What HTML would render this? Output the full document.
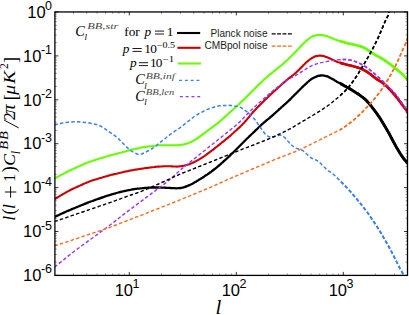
<!DOCTYPE html>
<html><head><meta charset="utf-8"><style>
html,body{margin:0;padding:0;background:#fff;}
svg{display:block}
.tk{font-family:"Liberation Sans",sans-serif;font-size:16.5px;fill:#000}
.sp{font-family:"Liberation Sans",sans-serif;font-size:12.5px;fill:#000}
.lg{font-family:"Liberation Sans",sans-serif;font-size:10.5px;fill:#1c1c1c}
.it{font-family:"Liberation Serif",serif;font-style:italic;fill:#000}
.mn{stroke-opacity:0.55}
.eq{stroke:#000;stroke-width:0.9;fill:none}
.sup{fill:#4a4a4a}
.rm{font-family:"Liberation Serif",serif;fill:#000}
</style></head><body>
<svg width="409" height="315" viewBox="0 0 409 315">
<rect width="409" height="315" fill="#fff"/>
<defs><clipPath id="cpr"><rect x="340" y="0" width="80" height="315"/></clipPath><clipPath id="cp"><rect x="54.9" y="11.95" width="352.6" height="263.45"/></clipPath></defs>
<g clip-path="url(#cp)">
<path d="M54.4 217.0C54.7 216.8 55.7 216.4 56.4 216.1C57.1 215.8 57.7 215.5 58.4 215.2C59.1 214.9 59.7 214.6 60.4 214.3C61.1 214.0 61.7 213.6 62.4 213.3C63.1 213.0 63.7 212.7 64.4 212.4C65.1 212.1 65.7 211.8 66.4 211.5C67.1 211.2 67.7 210.9 68.4 210.6C69.1 210.3 69.7 210.0 70.4 209.8C71.1 209.5 71.7 209.2 72.4 208.9C73.1 208.6 73.7 208.4 74.4 208.1C75.1 207.8 75.7 207.6 76.4 207.3C77.1 207.0 77.7 206.7 78.4 206.5C79.1 206.2 79.7 205.9 80.4 205.7C81.1 205.4 81.7 205.1 82.4 204.8C83.1 204.6 83.7 204.3 84.4 204.0C85.1 203.8 85.7 203.5 86.4 203.2C87.1 203.0 87.7 202.7 88.4 202.4C89.1 202.2 89.7 201.9 90.4 201.7C91.1 201.4 91.7 201.2 92.4 201.0C93.1 200.7 93.7 200.5 94.4 200.2C95.1 200.0 95.7 199.8 96.4 199.5C97.1 199.3 97.7 199.1 98.4 198.8C99.1 198.6 99.7 198.4 100.4 198.1C101.1 197.9 101.7 197.7 102.4 197.4C103.1 197.2 103.7 197.0 104.4 196.7C105.1 196.5 105.7 196.3 106.4 196.0C107.1 195.8 107.7 195.6 108.4 195.4C109.1 195.2 109.7 195.0 110.4 194.8C111.1 194.5 111.7 194.4 112.4 194.2C113.1 194.0 113.7 193.8 114.4 193.6C115.1 193.4 115.7 193.2 116.4 193.0C117.1 192.8 117.7 192.7 118.4 192.5C119.1 192.3 119.7 192.1 120.4 192.0C121.1 191.8 121.7 191.6 122.4 191.5C123.1 191.3 123.7 191.2 124.4 191.0C125.1 190.9 125.7 190.7 126.4 190.6C127.1 190.4 127.7 190.3 128.4 190.2C129.1 190.0 129.7 189.9 130.4 189.8C131.1 189.6 131.7 189.5 132.4 189.4C133.1 189.3 133.7 189.2 134.4 189.1C135.1 189.0 135.7 188.9 136.4 188.8C137.1 188.7 137.7 188.7 138.4 188.6C139.1 188.5 139.7 188.4 140.4 188.4C141.1 188.3 141.7 188.2 142.4 188.2C143.1 188.1 143.7 188.0 144.4 188.0C145.1 187.9 145.7 187.9 146.4 187.8C147.1 187.8 147.7 187.8 148.4 187.7C149.1 187.7 149.7 187.7 150.4 187.7C151.1 187.6 151.7 187.6 152.4 187.6C153.1 187.6 153.7 187.5 154.4 187.5C155.1 187.5 155.7 187.5 156.4 187.5C157.1 187.5 157.7 187.5 158.4 187.5C159.1 187.5 159.7 187.5 160.4 187.6C161.1 187.6 161.7 187.6 162.4 187.6C163.1 187.7 163.7 187.7 164.4 187.7C165.1 187.7 165.7 187.8 166.4 187.8C167.1 187.8 167.7 187.9 168.4 187.9C169.1 187.9 169.7 188.0 170.4 188.0C171.1 188.0 171.7 188.1 172.4 188.1C173.1 188.2 173.7 188.2 174.4 188.2C175.1 188.3 175.7 188.3 176.4 188.3C177.1 188.3 177.7 188.3 178.4 188.2C179.1 188.2 179.7 188.1 180.4 188.0C181.1 187.9 181.7 187.8 182.4 187.7C183.1 187.5 183.7 187.3 184.4 187.1C185.1 186.9 185.7 186.7 186.4 186.4C187.1 186.2 187.7 185.9 188.4 185.6C189.1 185.3 189.7 185.0 190.4 184.7C191.1 184.4 191.7 184.0 192.4 183.7C193.1 183.3 193.7 183.0 194.4 182.6C195.1 182.2 195.7 181.8 196.4 181.4C197.1 181.0 197.7 180.6 198.4 180.2C199.1 179.8 199.7 179.4 200.4 179.0C201.1 178.5 201.7 178.1 202.4 177.7C203.1 177.2 203.7 176.8 204.4 176.4C205.1 175.9 205.7 175.5 206.4 175.1C207.1 174.6 207.7 174.2 208.4 173.7C209.1 173.2 209.7 172.8 210.4 172.3C211.1 171.8 211.7 171.3 212.4 170.8C213.1 170.3 213.7 169.7 214.4 169.2C215.1 168.7 215.7 168.2 216.4 167.6C217.1 167.1 217.7 166.5 218.4 166.0C219.1 165.4 219.7 164.9 220.4 164.3C221.1 163.7 221.7 163.1 222.4 162.5C223.1 162.0 223.7 161.3 224.4 160.7C225.1 160.1 225.7 159.5 226.4 158.9C227.1 158.3 227.7 157.7 228.4 157.0C229.1 156.4 229.7 155.8 230.4 155.1C231.1 154.5 231.7 153.8 232.4 153.2C233.1 152.5 233.7 151.9 234.4 151.2C235.1 150.5 235.7 149.9 236.4 149.2C237.1 148.5 237.7 147.9 238.4 147.2C239.1 146.5 239.7 145.9 240.4 145.2C241.1 144.5 241.7 143.9 242.4 143.2C243.1 142.5 243.7 141.9 244.4 141.2C245.1 140.5 245.7 139.9 246.4 139.2C247.1 138.6 247.7 137.9 248.4 137.3C249.1 136.6 249.7 136.0 250.4 135.4C251.1 134.7 251.7 134.1 252.4 133.5C253.1 132.8 253.7 132.2 254.4 131.6C255.1 130.9 255.7 130.3 256.4 129.7C257.1 129.0 257.7 128.4 258.4 127.7C259.1 127.1 259.7 126.4 260.4 125.8C261.1 125.2 261.7 124.5 262.4 123.9C263.1 123.3 263.7 122.8 264.4 122.2C265.1 121.6 265.7 121.1 266.4 120.5C267.1 120.0 267.7 119.4 268.4 118.9C269.1 118.3 269.7 117.8 270.4 117.2C271.1 116.6 271.7 116.0 272.4 115.5C273.1 114.9 273.7 114.3 274.4 113.7C275.1 113.1 275.7 112.5 276.4 111.9C277.1 111.3 277.7 110.7 278.4 110.1C279.1 109.5 279.7 108.9 280.4 108.3C281.1 107.7 281.7 107.1 282.4 106.5C283.1 105.9 283.7 105.3 284.4 104.7C285.1 104.1 285.7 103.5 286.4 102.9C287.1 102.3 287.7 101.7 288.4 101.0C289.1 100.4 289.7 99.8 290.4 99.1C291.1 98.5 291.7 97.8 292.4 97.1C293.1 96.5 293.7 95.8 294.4 95.1C295.1 94.5 295.7 93.8 296.4 93.1C297.1 92.5 297.7 91.8 298.4 91.1C299.1 90.5 299.7 89.8 300.4 89.1C301.1 88.5 301.7 87.8 302.4 87.1C303.1 86.5 303.7 85.8 304.4 85.2C305.1 84.5 305.7 83.9 306.4 83.3C307.1 82.7 307.7 82.1 308.4 81.5C309.1 81.0 309.7 80.4 310.4 79.9C311.1 79.4 311.7 79.0 312.4 78.6C313.1 78.2 313.7 77.8 314.4 77.4C315.1 77.1 315.7 76.8 316.4 76.6C317.1 76.3 317.7 76.1 318.4 75.9C319.1 75.7 319.7 75.6 320.4 75.5C321.1 75.4 321.7 75.4 322.4 75.4C323.1 75.4 323.7 75.5 324.4 75.6C325.1 75.8 325.7 75.9 326.4 76.2C327.1 76.4 327.7 76.6 328.4 76.9C329.1 77.2 329.7 77.6 330.4 77.9C331.1 78.3 331.7 78.6 332.4 79.0C333.1 79.4 333.7 79.8 334.4 80.2C335.1 80.6 335.7 81.0 336.4 81.4C337.1 81.8 337.7 82.2 338.4 82.5C339.1 82.9 339.7 83.3 340.4 83.6C341.1 84.0 341.7 84.3 342.4 84.7C343.1 85.0 343.7 85.4 344.4 85.8C345.1 86.1 345.7 86.5 346.4 86.9C347.1 87.3 347.7 87.6 348.4 88.0C349.1 88.4 349.7 88.8 350.4 89.2C351.1 89.6 351.7 90.0 352.4 90.4C353.1 90.8 353.7 91.2 354.4 91.6C355.1 92.1 355.7 92.5 356.4 92.9C357.1 93.3 357.7 93.8 358.4 94.2C359.1 94.7 359.7 95.1 360.4 95.6C361.1 96.1 361.7 96.6 362.4 97.1C363.1 97.6 363.7 98.2 364.4 98.7C365.1 99.3 365.7 100.0 366.4 100.6C367.1 101.3 367.7 102.0 368.4 102.8C369.1 103.5 369.7 104.3 370.4 105.1C371.1 106.0 371.7 106.8 372.4 107.7C373.1 108.5 373.7 109.4 374.4 110.3C375.1 111.2 375.7 112.1 376.4 113.0C377.1 113.9 377.7 114.8 378.4 115.8C379.1 116.8 379.7 117.8 380.4 118.8C381.1 119.9 381.7 121.0 382.4 122.1C383.1 123.2 383.7 124.3 384.4 125.4C385.1 126.6 385.7 127.7 386.4 128.9C387.1 130.0 387.7 131.2 388.4 132.3C389.1 133.5 389.7 134.7 390.4 136.0C391.1 137.2 391.7 138.5 392.4 139.8C393.1 141.1 393.7 142.4 394.4 143.6C395.1 144.8 395.7 146.0 396.4 147.2C397.1 148.3 397.7 149.4 398.4 150.5C399.1 151.6 399.7 152.7 400.4 153.8C401.1 154.8 401.7 155.8 402.4 156.8C403.1 157.8 403.7 158.7 404.4 159.5C405.1 160.3 405.9 161.1 406.4 161.8C406.9 162.4 407.4 163.3 407.6 163.6" fill="none" stroke="#000000" stroke-width="2.3" stroke-linejoin="round"/>
<path d="M54.4 199.3C54.7 199.1 55.7 198.5 56.4 198.1C57.1 197.7 57.7 197.3 58.4 196.9C59.1 196.5 59.7 196.1 60.4 195.7C61.1 195.3 61.7 194.9 62.4 194.5C63.1 194.1 63.7 193.8 64.4 193.4C65.1 193.0 65.7 192.6 66.4 192.2C67.1 191.8 67.7 191.4 68.4 191.1C69.1 190.7 69.7 190.4 70.4 190.0C71.1 189.7 71.7 189.3 72.4 189.0C73.1 188.7 73.7 188.4 74.4 188.1C75.1 187.8 75.7 187.5 76.4 187.2C77.1 186.9 77.7 186.6 78.4 186.3C79.1 186.0 79.7 185.7 80.4 185.4C81.1 185.1 81.7 184.8 82.4 184.5C83.1 184.2 83.7 183.9 84.4 183.6C85.1 183.3 85.7 183.0 86.4 182.7C87.1 182.4 87.7 182.1 88.4 181.9C89.1 181.6 89.7 181.4 90.4 181.1C91.1 180.9 91.7 180.7 92.4 180.4C93.1 180.2 93.7 180.0 94.4 179.8C95.1 179.6 95.7 179.4 96.4 179.2C97.1 179.0 97.7 178.8 98.4 178.6C99.1 178.4 99.7 178.2 100.4 178.0C101.1 177.8 101.7 177.6 102.4 177.4C103.1 177.2 103.7 177.0 104.4 176.8C105.1 176.6 105.7 176.4 106.4 176.2C107.1 176.0 107.7 175.8 108.4 175.6C109.1 175.5 109.7 175.3 110.4 175.1C111.1 174.9 111.7 174.8 112.4 174.6C113.1 174.5 113.7 174.3 114.4 174.1C115.1 174.0 115.7 173.8 116.4 173.7C117.1 173.5 117.7 173.4 118.4 173.2C119.1 173.1 119.7 172.9 120.4 172.7C121.1 172.6 121.7 172.4 122.4 172.3C123.1 172.1 123.7 172.0 124.4 171.8C125.1 171.7 125.7 171.5 126.4 171.4C127.1 171.2 127.7 171.1 128.4 170.9C129.1 170.8 129.7 170.6 130.4 170.5C131.1 170.4 131.7 170.3 132.4 170.2C133.1 170.0 133.7 169.9 134.4 169.8C135.1 169.7 135.7 169.6 136.4 169.5C137.1 169.4 137.7 169.3 138.4 169.2C139.1 169.1 139.7 169.0 140.4 168.9C141.1 168.8 141.7 168.7 142.4 168.6C143.1 168.5 143.7 168.4 144.4 168.3C145.1 168.2 145.7 168.1 146.4 168.0C147.1 167.9 147.7 167.8 148.4 167.7C149.1 167.7 149.7 167.6 150.4 167.5C151.1 167.4 151.7 167.3 152.4 167.2C153.1 167.1 153.7 167.0 154.4 167.0C155.1 166.9 155.7 166.8 156.4 166.7C157.1 166.7 157.7 166.6 158.4 166.6C159.1 166.5 159.7 166.5 160.4 166.5C161.1 166.4 161.7 166.4 162.4 166.4C163.1 166.3 163.7 166.3 164.4 166.3C165.1 166.3 165.7 166.3 166.4 166.2C167.1 166.2 167.7 166.2 168.4 166.2C169.1 166.3 169.7 166.3 170.4 166.3C171.1 166.3 171.7 166.4 172.4 166.4C173.1 166.4 173.7 166.5 174.4 166.5C175.1 166.5 175.7 166.6 176.4 166.6C177.1 166.6 177.7 166.6 178.4 166.5C179.1 166.5 179.7 166.4 180.4 166.3C181.1 166.3 181.7 166.1 182.4 166.0C183.1 165.9 183.7 165.7 184.4 165.6C185.1 165.4 185.7 165.3 186.4 165.1C187.1 164.9 187.7 164.7 188.4 164.5C189.1 164.3 189.7 164.0 190.4 163.8C191.1 163.5 191.7 163.2 192.4 162.9C193.1 162.6 193.7 162.3 194.4 162.0C195.1 161.7 195.7 161.3 196.4 161.0C197.1 160.6 197.7 160.3 198.4 159.9C199.1 159.5 199.7 159.1 200.4 158.7C201.1 158.3 201.7 157.9 202.4 157.4C203.1 157.0 203.7 156.5 204.4 156.1C205.1 155.6 205.7 155.1 206.4 154.7C207.1 154.2 207.7 153.7 208.4 153.2C209.1 152.7 209.7 152.2 210.4 151.7C211.1 151.2 211.7 150.7 212.4 150.2C213.1 149.6 213.7 149.1 214.4 148.6C215.1 148.1 215.7 147.5 216.4 147.0C217.1 146.5 217.7 145.9 218.4 145.4C219.1 144.9 219.7 144.3 220.4 143.8C221.1 143.3 221.7 142.7 222.4 142.2C223.1 141.6 223.7 141.1 224.4 140.6C225.1 140.0 225.7 139.5 226.4 138.9C227.1 138.4 227.7 137.8 228.4 137.3C229.1 136.7 229.7 136.1 230.4 135.6C231.1 135.0 231.7 134.4 232.4 133.8C233.1 133.2 233.7 132.6 234.4 132.0C235.1 131.4 235.7 130.8 236.4 130.2C237.1 129.6 237.7 129.0 238.4 128.3C239.1 127.7 239.7 127.1 240.4 126.4C241.1 125.8 241.7 125.1 242.4 124.4C243.1 123.8 243.7 123.1 244.4 122.4C245.1 121.6 245.7 120.9 246.4 120.1C247.1 119.4 247.7 118.6 248.4 117.8C249.1 117.0 249.7 116.1 250.4 115.3C251.1 114.5 251.7 113.7 252.4 112.9C253.1 112.2 253.7 111.4 254.4 110.7C255.1 110.0 255.7 109.3 256.4 108.6C257.1 107.9 257.7 107.3 258.4 106.6C259.1 105.9 259.7 105.3 260.4 104.6C261.1 103.9 261.7 103.3 262.4 102.6C263.1 101.9 263.7 101.3 264.4 100.6C265.1 99.9 265.7 99.3 266.4 98.6C267.1 98.0 267.7 97.3 268.4 96.7C269.1 96.0 269.7 95.4 270.4 94.8C271.1 94.1 271.7 93.5 272.4 92.9C273.1 92.3 273.7 91.7 274.4 91.1C275.1 90.5 275.7 89.9 276.4 89.3C277.1 88.7 277.7 88.1 278.4 87.5C279.1 86.9 279.7 86.3 280.4 85.7C281.1 85.1 281.7 84.5 282.4 83.9C283.1 83.3 283.7 82.7 284.4 82.1C285.1 81.5 285.7 80.9 286.4 80.3C287.1 79.7 287.7 79.2 288.4 78.6C289.1 78.1 289.7 77.6 290.4 77.1C291.1 76.6 291.7 76.1 292.4 75.6C293.1 75.1 293.7 74.6 294.4 74.0C295.1 73.5 295.7 72.9 296.4 72.3C297.1 71.7 297.7 71.0 298.4 70.4C299.1 69.7 299.7 69.0 300.4 68.3C301.1 67.6 301.7 66.9 302.4 66.2C303.1 65.5 303.7 64.8 304.4 64.2C305.1 63.5 305.7 62.9 306.4 62.3C307.1 61.7 307.7 61.1 308.4 60.6C309.1 60.0 309.7 59.5 310.4 59.0C311.1 58.6 311.7 58.1 312.4 57.8C313.1 57.4 313.7 57.1 314.4 56.8C315.1 56.5 315.7 56.3 316.4 56.1C317.1 56.0 317.7 55.8 318.4 55.7C319.1 55.7 319.7 55.6 320.4 55.6C321.1 55.7 321.7 55.8 322.4 55.9C323.1 56.0 323.7 56.2 324.4 56.3C325.1 56.5 325.7 56.8 326.4 57.0C327.1 57.2 327.7 57.5 328.4 57.8C329.1 58.1 329.7 58.4 330.4 58.7C331.1 59.1 331.7 59.4 332.4 59.7C333.1 60.0 333.7 60.4 334.4 60.7C335.1 61.0 335.7 61.3 336.4 61.5C337.1 61.8 337.7 62.0 338.4 62.3C339.1 62.5 339.7 62.7 340.4 62.9C341.1 63.1 341.7 63.3 342.4 63.5C343.1 63.7 343.7 63.9 344.4 64.0C345.1 64.2 345.7 64.4 346.4 64.6C347.1 64.7 347.7 64.9 348.4 65.1C349.1 65.2 349.7 65.4 350.4 65.5C351.1 65.7 351.7 65.9 352.4 66.0C353.1 66.2 353.7 66.4 354.4 66.6C355.1 66.7 355.7 66.9 356.4 67.1C357.1 67.3 357.7 67.5 358.4 67.7C359.1 68.0 359.7 68.2 360.4 68.5C361.1 68.7 361.7 69.0 362.4 69.3C363.1 69.6 363.7 69.9 364.4 70.3C365.1 70.7 365.7 71.0 366.4 71.5C367.1 71.9 367.7 72.3 368.4 72.8C369.1 73.2 369.7 73.7 370.4 74.2C371.1 74.7 371.7 75.3 372.4 75.8C373.1 76.3 373.7 76.9 374.4 77.4C375.1 77.9 375.7 78.4 376.4 78.9C377.1 79.3 377.7 79.8 378.4 80.2C379.1 80.6 379.7 81.0 380.4 81.4C381.1 81.9 381.7 82.3 382.4 82.7C383.1 83.2 383.7 83.7 384.4 84.3C385.1 84.8 385.7 85.4 386.4 86.0C387.1 86.6 387.7 87.3 388.4 88.0C389.1 88.7 389.7 89.4 390.4 90.1C391.1 90.9 391.7 91.6 392.4 92.4C393.1 93.2 393.7 93.9 394.4 94.7C395.1 95.5 395.7 96.3 396.4 97.2C397.1 98.0 397.7 98.8 398.4 99.7C399.1 100.6 399.7 101.4 400.4 102.3C401.1 103.2 401.7 104.1 402.4 105.0C403.1 105.9 403.7 106.8 404.4 107.6C405.1 108.5 405.9 109.3 406.4 110.1C406.9 110.9 407.4 111.9 407.6 112.3" fill="none" stroke="#cc0000" stroke-width="2.1" stroke-linejoin="round"/>
<path d="M54.4 178.6C54.7 178.4 55.7 177.9 56.4 177.5C57.1 177.2 57.7 176.8 58.4 176.5C59.1 176.1 59.7 175.8 60.4 175.4C61.1 175.1 61.7 174.7 62.4 174.4C63.1 174.0 63.7 173.7 64.4 173.3C65.1 173.0 65.7 172.6 66.4 172.3C67.1 171.9 67.7 171.6 68.4 171.2C69.1 170.9 69.7 170.6 70.4 170.3C71.1 169.9 71.7 169.6 72.4 169.3C73.1 169.0 73.7 168.7 74.4 168.4C75.1 168.1 75.7 167.8 76.4 167.5C77.1 167.2 77.7 166.9 78.4 166.6C79.1 166.3 79.7 166.0 80.4 165.7C81.1 165.4 81.7 165.1 82.4 164.8C83.1 164.5 83.7 164.2 84.4 163.9C85.1 163.7 85.7 163.4 86.4 163.1C87.1 162.8 87.7 162.5 88.4 162.3C89.1 162.0 89.7 161.7 90.4 161.5C91.1 161.3 91.7 161.0 92.4 160.8C93.1 160.6 93.7 160.4 94.4 160.2C95.1 160.0 95.7 159.8 96.4 159.6C97.1 159.4 97.7 159.1 98.4 158.9C99.1 158.7 99.7 158.5 100.4 158.3C101.1 158.1 101.7 157.9 102.4 157.7C103.1 157.5 103.7 157.3 104.4 157.1C105.1 156.9 105.7 156.7 106.4 156.5C107.1 156.3 107.7 156.1 108.4 155.9C109.1 155.7 109.7 155.5 110.4 155.4C111.1 155.2 111.7 155.0 112.4 154.8C113.1 154.6 113.7 154.5 114.4 154.3C115.1 154.1 115.7 153.9 116.4 153.8C117.1 153.6 117.7 153.4 118.4 153.2C119.1 153.1 119.7 152.9 120.4 152.7C121.1 152.5 121.7 152.4 122.4 152.2C123.1 152.0 123.7 151.8 124.4 151.7C125.1 151.5 125.7 151.3 126.4 151.1C127.1 151.0 127.7 150.8 128.4 150.6C129.1 150.5 129.7 150.3 130.4 150.1C131.1 149.9 131.7 149.8 132.4 149.6C133.1 149.4 133.7 149.3 134.4 149.1C135.1 148.9 135.7 148.8 136.4 148.6C137.1 148.5 137.7 148.3 138.4 148.2C139.1 148.0 139.7 147.9 140.4 147.7C141.1 147.6 141.7 147.5 142.4 147.4C143.1 147.3 143.7 147.2 144.4 147.1C145.1 147.0 145.7 146.9 146.4 146.8C147.1 146.7 147.7 146.6 148.4 146.5C149.1 146.4 149.7 146.3 150.4 146.2C151.1 146.1 151.7 146.0 152.4 146.0C153.1 145.9 153.7 145.8 154.4 145.7C155.1 145.6 155.7 145.5 156.4 145.5C157.1 145.4 157.7 145.4 158.4 145.3C159.1 145.3 159.7 145.3 160.4 145.3C161.1 145.2 161.7 145.2 162.4 145.2C163.1 145.2 163.7 145.2 164.4 145.2C165.1 145.3 165.7 145.3 166.4 145.3C167.1 145.3 167.7 145.3 168.4 145.3C169.1 145.3 169.7 145.3 170.4 145.3C171.1 145.3 171.7 145.3 172.4 145.3C173.1 145.3 173.7 145.3 174.4 145.3C175.1 145.2 175.7 145.2 176.4 145.2C177.1 145.2 177.7 145.2 178.4 145.1C179.1 145.1 179.7 145.0 180.4 144.9C181.1 144.8 181.7 144.7 182.4 144.6C183.1 144.5 183.7 144.4 184.4 144.2C185.1 144.1 185.7 143.9 186.4 143.7C187.1 143.5 187.7 143.3 188.4 143.1C189.1 142.8 189.7 142.5 190.4 142.2C191.1 141.9 191.7 141.6 192.4 141.3C193.1 140.9 193.7 140.6 194.4 140.2C195.1 139.8 195.7 139.4 196.4 139.0C197.1 138.5 197.7 138.1 198.4 137.6C199.1 137.1 199.7 136.7 200.4 136.2C201.1 135.7 201.7 135.2 202.4 134.7C203.1 134.2 203.7 133.7 204.4 133.2C205.1 132.7 205.7 132.2 206.4 131.7C207.1 131.2 207.7 130.7 208.4 130.2C209.1 129.7 209.7 129.2 210.4 128.7C211.1 128.2 211.7 127.7 212.4 127.2C213.1 126.7 213.7 126.2 214.4 125.7C215.1 125.2 215.7 124.7 216.4 124.2C217.1 123.7 217.7 123.2 218.4 122.6C219.1 122.1 219.7 121.5 220.4 120.9C221.1 120.4 221.7 119.8 222.4 119.2C223.1 118.6 223.7 118.0 224.4 117.4C225.1 116.8 225.7 116.2 226.4 115.5C227.1 114.9 227.7 114.3 228.4 113.7C229.1 113.1 229.7 112.5 230.4 111.9C231.1 111.3 231.7 110.7 232.4 110.1C233.1 109.5 233.7 108.9 234.4 108.3C235.1 107.7 235.7 107.1 236.4 106.5C237.1 105.9 237.7 105.3 238.4 104.7C239.1 104.1 239.7 103.4 240.4 102.8C241.1 102.2 241.7 101.5 242.4 100.9C243.1 100.2 243.7 99.6 244.4 98.9C245.1 98.2 245.7 97.6 246.4 96.9C247.1 96.2 247.7 95.6 248.4 94.9C249.1 94.2 249.7 93.6 250.4 92.9C251.1 92.3 251.7 91.6 252.4 90.9C253.1 90.3 253.7 89.6 254.4 89.0C255.1 88.3 255.7 87.6 256.4 87.0C257.1 86.3 257.7 85.7 258.4 85.0C259.1 84.4 259.7 83.8 260.4 83.1C261.1 82.5 261.7 81.9 262.4 81.3C263.1 80.7 263.7 80.0 264.4 79.4C265.1 78.8 265.7 78.2 266.4 77.6C267.1 77.0 267.7 76.5 268.4 75.9C269.1 75.3 269.7 74.7 270.4 74.2C271.1 73.6 271.7 73.1 272.4 72.5C273.1 72.0 273.7 71.4 274.4 70.9C275.1 70.4 275.7 69.8 276.4 69.3C277.1 68.7 277.7 68.2 278.4 67.7C279.1 67.1 279.7 66.6 280.4 66.0C281.1 65.5 281.7 64.9 282.4 64.4C283.1 63.8 283.7 63.2 284.4 62.6C285.1 62.0 285.7 61.4 286.4 60.8C287.1 60.2 287.7 59.6 288.4 59.0C289.1 58.3 289.7 57.7 290.4 57.0C291.1 56.4 291.7 55.7 292.4 55.1C293.1 54.4 293.7 53.7 294.4 53.1C295.1 52.4 295.7 51.7 296.4 51.0C297.1 50.3 297.7 49.6 298.4 48.9C299.1 48.1 299.7 47.4 300.4 46.7C301.1 46.0 301.7 45.2 302.4 44.6C303.1 43.9 303.7 43.2 304.4 42.6C305.1 41.9 305.7 41.3 306.4 40.7C307.1 40.2 307.7 39.6 308.4 39.1C309.1 38.6 309.7 38.1 310.4 37.7C311.1 37.3 311.7 36.9 312.4 36.5C313.1 36.2 313.7 36.0 314.4 35.7C315.1 35.5 315.7 35.3 316.4 35.2C317.1 35.0 317.7 34.9 318.4 34.9C319.1 34.8 319.7 34.8 320.4 34.8C321.1 34.9 321.7 35.0 322.4 35.1C323.1 35.2 323.7 35.3 324.4 35.5C325.1 35.7 325.7 35.9 326.4 36.1C327.1 36.3 327.7 36.5 328.4 36.8C329.1 37.0 329.7 37.3 330.4 37.5C331.1 37.8 331.7 38.1 332.4 38.3C333.1 38.6 333.7 38.9 334.4 39.2C335.1 39.4 335.7 39.7 336.4 39.9C337.1 40.1 337.7 40.4 338.4 40.6C339.1 40.8 339.7 41.0 340.4 41.2C341.1 41.4 341.7 41.6 342.4 41.8C343.1 42.0 343.7 42.2 344.4 42.4C345.1 42.5 345.7 42.7 346.4 42.9C347.1 43.1 347.7 43.2 348.4 43.4C349.1 43.6 349.7 43.7 350.4 43.9C351.1 44.0 351.7 44.2 352.4 44.3C353.1 44.5 353.7 44.6 354.4 44.8C355.1 44.9 355.7 45.0 356.4 45.2C357.1 45.3 357.7 45.5 358.4 45.7C359.1 45.8 359.7 46.0 360.4 46.2C361.1 46.5 361.7 46.7 362.4 47.0C363.1 47.3 363.7 47.6 364.4 47.9C365.1 48.3 365.7 48.7 366.4 49.1C367.1 49.5 367.7 50.0 368.4 50.4C369.1 50.9 369.7 51.4 370.4 51.8C371.1 52.3 371.7 52.7 372.4 53.2C373.1 53.6 373.7 54.0 374.4 54.4C375.1 54.8 375.7 55.2 376.4 55.6C377.1 55.9 377.7 56.3 378.4 56.6C379.1 57.0 379.7 57.3 380.4 57.7C381.1 58.1 381.7 58.5 382.4 58.9C383.1 59.3 383.7 59.7 384.4 60.2C385.1 60.6 385.7 61.1 386.4 61.5C387.1 62.0 387.7 62.5 388.4 63.0C389.1 63.5 389.7 63.9 390.4 64.4C391.1 64.9 391.7 65.5 392.4 66.0C393.1 66.5 393.7 67.0 394.4 67.5C395.1 68.1 395.7 68.6 396.4 69.1C397.1 69.7 397.7 70.2 398.4 70.8C399.1 71.3 399.7 71.9 400.4 72.5C401.1 73.0 401.7 73.6 402.4 74.3C403.1 74.9 403.7 75.6 404.4 76.3C405.1 76.9 405.9 77.6 406.4 78.3C406.9 79.0 407.4 80.0 407.6 80.3" fill="none" stroke="#66ff00" stroke-width="2.1" stroke-linejoin="round"/>
<path d="M54.4 124.8C54.7 124.7 55.7 124.5 56.4 124.4C57.1 124.2 57.7 124.1 58.4 123.9C59.1 123.8 59.7 123.6 60.4 123.5C61.1 123.4 61.7 123.2 62.4 123.1C63.1 122.9 63.7 122.8 64.4 122.7C65.1 122.6 65.7 122.5 66.4 122.4C67.1 122.4 67.7 122.3 68.4 122.3C69.1 122.2 69.7 122.1 70.4 122.1C71.1 122.0 71.7 122.0 72.4 121.9C73.1 121.9 73.7 121.8 74.4 121.8C75.1 121.8 75.7 121.7 76.4 121.7C77.1 121.7 77.7 121.8 78.4 121.8C79.1 121.8 79.7 121.9 80.4 122.0C81.1 122.0 81.7 122.1 82.4 122.2C83.1 122.3 83.7 122.3 84.4 122.4C85.1 122.5 85.7 122.5 86.4 122.6C87.1 122.7 87.7 122.8 88.4 122.9C89.1 123.0 89.7 123.1 90.4 123.2C91.1 123.3 91.7 123.4 92.4 123.6C93.1 123.7 93.7 123.9 94.4 124.1C95.1 124.2 95.7 124.4 96.4 124.6C97.1 124.7 97.7 124.9 98.4 125.1C99.1 125.4 99.7 125.6 100.4 126.0C101.1 126.3 101.7 126.7 102.4 127.1C103.1 127.5 103.7 128.0 104.4 128.4C105.1 128.9 105.7 129.4 106.4 129.8C107.1 130.3 107.7 130.7 108.4 131.2C109.1 131.7 109.7 132.1 110.4 132.6C111.1 133.1 111.7 133.5 112.4 134.0C113.1 134.4 113.7 134.9 114.4 135.4C115.1 135.9 115.7 136.3 116.4 136.9C117.1 137.4 117.7 138.0 118.4 138.6C119.1 139.2 119.7 139.9 120.4 140.6C121.1 141.3 121.7 142.0 122.4 142.7C123.1 143.4 123.7 144.1 124.4 144.8C125.1 145.5 125.7 146.2 126.4 146.8C127.1 147.5 127.7 148.1 128.4 148.7C129.1 149.3 129.7 149.8 130.4 150.3C131.1 150.7 131.7 151.1 132.4 151.6C133.1 152.0 133.7 152.3 134.4 152.7C135.1 153.1 135.7 153.5 136.4 153.8C137.1 154.1 137.7 154.4 138.4 154.5C139.1 154.6 139.7 154.5 140.4 154.4C141.1 154.3 141.7 154.0 142.4 153.7C143.1 153.4 143.7 153.1 144.4 152.7C145.1 152.4 145.7 152.1 146.4 151.8C147.1 151.4 147.7 151.1 148.4 150.8C149.1 150.4 149.7 150.1 150.4 149.7C151.1 149.3 151.7 148.9 152.4 148.5C153.1 148.0 153.7 147.6 154.4 147.0C155.1 146.5 155.7 146.0 156.4 145.5C157.1 144.9 157.7 144.4 158.4 143.9C159.1 143.3 159.7 142.8 160.4 142.3C161.1 141.7 161.7 141.2 162.4 140.7C163.1 140.1 163.7 139.6 164.4 139.1C165.1 138.5 165.7 138.0 166.4 137.5C167.1 136.9 167.7 136.4 168.4 135.9C169.1 135.4 169.7 134.8 170.4 134.3C171.1 133.8 171.7 133.3 172.4 132.8C173.1 132.4 173.7 131.9 174.4 131.5C175.1 131.0 175.7 130.6 176.4 130.2C177.1 129.8 177.7 129.3 178.4 128.9C179.1 128.4 179.7 128.0 180.4 127.5C181.1 127.0 181.7 126.5 182.4 125.9C183.1 125.4 183.7 124.9 184.4 124.4C185.1 123.8 185.7 123.3 186.4 122.7C187.1 122.2 187.7 121.7 188.4 121.1C189.1 120.6 189.7 120.1 190.4 119.5C191.1 119.0 191.7 118.5 192.4 118.0C193.1 117.5 193.7 117.0 194.4 116.5C195.1 116.0 195.7 115.6 196.4 115.2C197.1 114.8 197.7 114.4 198.4 114.0C199.1 113.7 199.7 113.3 200.4 112.9C201.1 112.6 201.7 112.2 202.4 111.8C203.1 111.5 203.7 111.1 204.4 110.7C205.1 110.4 205.7 110.1 206.4 109.8C207.1 109.5 207.7 109.2 208.4 109.0C209.1 108.7 209.7 108.5 210.4 108.3C211.1 108.0 211.7 107.8 212.4 107.6C213.1 107.4 213.7 107.2 214.4 107.0C215.1 106.8 215.7 106.6 216.4 106.4C217.1 106.2 217.7 106.1 218.4 105.9C219.1 105.8 219.7 105.8 220.4 105.7C221.1 105.6 221.7 105.6 222.4 105.6C223.1 105.5 223.7 105.5 224.4 105.5C225.1 105.4 225.7 105.4 226.4 105.4C227.1 105.4 227.7 105.3 228.4 105.3C229.1 105.3 229.7 105.4 230.4 105.4C231.1 105.5 231.7 105.6 232.4 105.6C233.1 105.7 233.7 105.8 234.4 105.9C235.1 106.0 235.7 106.1 236.4 106.3C237.1 106.4 237.7 106.5 238.4 106.7C239.1 106.9 239.7 107.1 240.4 107.4C241.1 107.7 241.7 108.1 242.4 108.5C243.1 108.9 243.7 109.4 244.4 109.8C245.1 110.3 245.7 110.8 246.4 111.3C247.1 111.8 247.7 112.3 248.4 112.9C249.1 113.5 249.7 114.1 250.4 114.8C251.1 115.5 251.7 116.1 252.4 116.9C253.1 117.6 253.7 118.3 254.4 119.1C255.1 119.9 255.7 120.8 256.4 121.7C257.1 122.6 257.7 123.6 258.4 124.6C259.1 125.5 259.7 126.5 260.4 127.5C261.1 128.4 261.7 129.4 262.4 130.3C263.1 131.2 263.7 132.2 264.4 133.0C265.1 133.8 265.7 134.5 266.4 135.1C267.1 135.6 267.7 136.0 268.4 136.4C269.1 136.7 269.7 136.9 270.4 137.0C271.1 137.1 271.7 137.2 272.4 137.1C273.1 137.1 273.7 136.9 274.4 136.7C275.1 136.5 275.7 136.2 276.4 136.0C277.1 135.8 277.7 135.5 278.4 135.4C279.1 135.3 279.7 135.1 280.4 135.2C281.1 135.3 281.7 135.4 282.4 135.8C283.1 136.1 283.7 136.7 284.4 137.3C285.1 137.9 285.7 138.7 286.4 139.4C287.1 140.1 287.7 140.9 288.4 141.7C289.1 142.4 289.7 143.2 290.4 143.9C291.1 144.6 291.7 145.2 292.4 145.8C293.1 146.4 293.7 146.9 294.4 147.3C295.1 147.8 295.7 148.2 296.4 148.4C297.1 148.7 297.7 148.9 298.4 149.0C299.1 149.2 299.7 149.3 300.4 149.5C301.1 149.7 301.7 150.0 302.4 150.4C303.1 150.8 303.7 151.3 304.4 151.8C305.1 152.4 305.7 153.0 306.4 153.7C307.1 154.3 307.7 155.0 308.4 155.6C309.1 156.2 309.7 156.8 310.4 157.3C311.1 157.8 311.7 158.3 312.4 158.6C313.1 159.0 313.7 159.2 314.4 159.4C315.1 159.7 315.7 159.9 316.4 160.2C317.1 160.6 317.7 161.0 318.4 161.5C319.1 162.0 319.7 162.6 320.4 163.2C321.1 163.8 321.7 164.6 322.4 165.2C323.1 165.9 323.7 166.7 324.4 167.3C325.1 168.0 325.7 168.6 326.4 169.2C327.1 169.8 327.7 170.3 328.4 170.8C329.1 171.2 329.7 171.7 330.4 172.1C331.1 172.6 331.7 173.1 332.4 173.6C333.1 174.1 333.7 174.6 334.4 175.2C335.1 175.8 335.7 176.5 336.4 177.1C337.1 177.8 337.7 178.4 338.4 179.1C339.1 179.8 339.7 180.4 340.4 181.1C341.1 181.8 341.7 182.4 342.4 183.1C343.1 183.8 343.7 184.4 344.4 185.1C345.1 185.8 345.7 186.5 346.4 187.2C347.1 187.9 347.7 188.6 348.4 189.4C349.1 190.1 349.7 190.9 350.4 191.6C351.1 192.4 351.7 193.2 352.4 193.9C353.1 194.7 353.7 195.4 354.4 196.2C355.1 197.0 355.7 197.8 356.4 198.6C357.1 199.4 357.7 200.2 358.4 201.0C359.1 201.9 359.7 202.7 360.4 203.5C361.1 204.4 361.7 205.2 362.4 206.1C363.1 206.9 363.7 207.7 364.4 208.6C365.1 209.4 365.7 210.3 366.4 211.2C367.1 212.1 367.7 213.0 368.4 213.9C369.1 214.8 369.7 215.8 370.4 216.8C371.1 217.8 371.7 218.8 372.4 219.8C373.1 220.8 373.7 221.8 374.4 222.8C375.1 223.8 375.7 224.8 376.4 225.8C377.1 226.8 377.7 227.8 378.4 228.9C379.1 230.0 379.7 231.0 380.4 232.1C381.1 233.2 381.7 234.4 382.4 235.5C383.1 236.7 383.7 237.8 384.4 239.0C385.1 240.2 385.7 241.3 386.4 242.5C387.1 243.7 387.7 244.8 388.4 246.0C389.1 247.2 389.7 248.4 390.4 249.6C391.1 250.8 391.7 252.1 392.4 253.4C393.1 254.7 393.7 256.0 394.4 257.4C395.1 258.7 395.7 260.0 396.4 261.4C397.1 262.7 397.7 264.1 398.4 265.4C399.1 266.7 399.7 268.2 400.4 269.4C401.1 270.6 402.0 271.8 402.4 272.7C402.8 273.6 402.9 274.5 403.0 274.8" fill="none" stroke="#3b7dff" stroke-width="1.5" stroke-dasharray="3.5 2.2" stroke-linejoin="round"/>
<path d="M54.4 267.2C54.7 266.9 55.7 266.1 56.4 265.6C57.1 265.1 57.7 264.5 58.4 264.0C59.1 263.4 59.7 262.9 60.4 262.4C61.1 261.8 61.7 261.3 62.4 260.8C63.1 260.2 63.7 259.7 64.4 259.1C65.1 258.6 65.7 258.1 66.4 257.5C67.1 257.0 67.7 256.5 68.4 255.9C69.1 255.4 69.7 254.9 70.4 254.3C71.1 253.8 71.7 253.3 72.4 252.7C73.1 252.2 73.7 251.7 74.4 251.2C75.1 250.7 75.7 250.2 76.4 249.7C77.1 249.2 77.7 248.7 78.4 248.2C79.1 247.7 79.7 247.2 80.4 246.7C81.1 246.2 81.7 245.8 82.4 245.3C83.1 244.8 83.7 244.3 84.4 243.8C85.1 243.3 85.7 242.8 86.4 242.4C87.1 241.9 87.7 241.4 88.4 240.9C89.1 240.4 89.7 239.9 90.4 239.4C91.1 239.0 91.7 238.5 92.4 238.0C93.1 237.5 93.7 237.0 94.4 236.5C95.1 236.0 95.7 235.5 96.4 235.1C97.1 234.6 97.7 234.1 98.4 233.6C99.1 233.1 99.7 232.6 100.4 232.1C101.1 231.7 101.7 231.2 102.4 230.7C103.1 230.2 103.7 229.7 104.4 229.2C105.1 228.7 105.7 228.2 106.4 227.8C107.1 227.3 107.7 226.8 108.4 226.3C109.1 225.8 109.7 225.3 110.4 224.8C111.1 224.3 111.7 223.8 112.4 223.3C113.1 222.7 113.7 222.2 114.4 221.7C115.1 221.2 115.7 220.6 116.4 220.1C117.1 219.6 117.7 219.1 118.4 218.5C119.1 218.0 119.7 217.5 120.4 217.0C121.1 216.5 121.7 215.9 122.4 215.4C123.1 214.9 123.7 214.4 124.4 213.9C125.1 213.4 125.7 212.9 126.4 212.4C127.1 211.9 127.7 211.4 128.4 210.9C129.1 210.4 129.7 209.9 130.4 209.4C131.1 208.9 131.7 208.4 132.4 207.9C133.1 207.4 133.7 206.9 134.4 206.4C135.1 205.9 135.7 205.4 136.4 204.9C137.1 204.4 137.7 203.9 138.4 203.4C139.1 202.9 139.7 202.4 140.4 201.9C141.1 201.4 141.7 200.9 142.4 200.4C143.1 199.9 143.7 199.4 144.4 198.9C145.1 198.4 145.7 197.9 146.4 197.4C147.1 196.9 147.7 196.4 148.4 195.9C149.1 195.4 149.7 194.9 150.4 194.4C151.1 193.9 151.7 193.4 152.4 192.9C153.1 192.4 153.7 191.9 154.4 191.4C155.1 190.9 155.7 190.4 156.4 189.9C157.1 189.4 157.7 188.9 158.4 188.4C159.1 187.9 159.7 187.4 160.4 186.9C161.1 186.4 161.7 185.9 162.4 185.4C163.1 184.9 163.7 184.4 164.4 183.9C165.1 183.4 165.7 182.9 166.4 182.4C167.1 181.8 167.7 181.3 168.4 180.8C169.1 180.2 169.7 179.6 170.4 179.0C171.1 178.5 171.7 177.9 172.4 177.3C173.1 176.7 173.7 176.1 174.4 175.4C175.1 174.8 175.7 174.2 176.4 173.6C177.1 173.0 177.7 172.4 178.4 171.8C179.1 171.2 179.7 170.6 180.4 170.0C181.1 169.5 181.7 168.9 182.4 168.3C183.1 167.8 183.7 167.2 184.4 166.7C185.1 166.1 185.7 165.6 186.4 165.0C187.1 164.5 187.7 164.0 188.4 163.4C189.1 162.9 189.7 162.4 190.4 161.8C191.1 161.3 191.7 160.8 192.4 160.2C193.1 159.7 193.7 159.2 194.4 158.6C195.1 158.1 195.7 157.6 196.4 157.0C197.1 156.5 197.7 156.0 198.4 155.4C199.1 154.9 199.7 154.4 200.4 153.8C201.1 153.3 201.7 152.8 202.4 152.3C203.1 151.7 203.7 151.2 204.4 150.7C205.1 150.1 205.7 149.6 206.4 149.1C207.1 148.5 207.7 148.0 208.4 147.5C209.1 146.9 209.7 146.4 210.4 145.9C211.1 145.3 211.7 144.8 212.4 144.3C213.1 143.8 213.7 143.2 214.4 142.7C215.1 142.2 215.7 141.6 216.4 141.1C217.1 140.6 217.7 140.0 218.4 139.5C219.1 139.0 219.7 138.4 220.4 137.9C221.1 137.4 221.7 136.8 222.4 136.3C223.1 135.7 223.7 135.2 224.4 134.7C225.1 134.1 225.7 133.6 226.4 133.1C227.1 132.5 227.7 132.0 228.4 131.5C229.1 130.9 229.7 130.4 230.4 129.9C231.1 129.3 231.7 128.8 232.4 128.2C233.1 127.7 233.7 127.2 234.4 126.6C235.1 126.1 235.7 125.5 236.4 124.9C237.1 124.4 237.7 123.8 238.4 123.1C239.1 122.5 239.7 121.9 240.4 121.2C241.1 120.6 241.7 119.9 242.4 119.2C243.1 118.5 243.7 117.8 244.4 117.1C245.1 116.4 245.7 115.7 246.4 115.0C247.1 114.3 247.7 113.6 248.4 112.9C249.1 112.2 249.7 111.5 250.4 110.9C251.1 110.2 251.7 109.6 252.4 109.0C253.1 108.4 253.7 107.7 254.4 107.1C255.1 106.5 255.7 105.9 256.4 105.3C257.1 104.7 257.7 104.1 258.4 103.5C259.1 102.9 259.7 102.3 260.4 101.7C261.1 101.1 261.7 100.5 262.4 99.9C263.1 99.3 263.7 98.7 264.4 98.1C265.1 97.5 265.7 96.9 266.4 96.4C267.1 95.8 267.7 95.2 268.4 94.6C269.1 94.0 269.7 93.5 270.4 92.9C271.1 92.3 271.7 91.8 272.4 91.2C273.1 90.7 273.7 90.1 274.4 89.6C275.1 89.1 275.7 88.6 276.4 88.0C277.1 87.5 277.7 87.0 278.4 86.5C279.1 86.0 279.7 85.5 280.4 85.0C281.1 84.5 281.7 84.0 282.4 83.5C283.1 83.1 283.7 82.6 284.4 82.1C285.1 81.7 285.7 81.2 286.4 80.8C287.1 80.3 287.7 79.9 288.4 79.5C289.1 79.1 289.7 78.7 290.4 78.3C291.1 77.9 291.7 77.6 292.4 77.2C293.1 76.9 293.7 76.5 294.4 76.1C295.1 75.8 295.7 75.4 296.4 75.0C297.1 74.6 297.7 74.2 298.4 73.8C299.1 73.4 299.7 73.0 300.4 72.6C301.1 72.2 301.7 71.7 302.4 71.3C303.1 70.9 303.7 70.4 304.4 70.0C305.1 69.6 305.7 69.2 306.4 68.7C307.1 68.3 307.7 67.9 308.4 67.5C309.1 67.1 309.7 66.8 310.4 66.4C311.1 66.1 311.7 65.7 312.4 65.4C313.1 65.1 313.7 64.9 314.4 64.6C315.1 64.4 315.7 64.1 316.4 63.9C317.1 63.7 317.7 63.5 318.4 63.3C319.1 63.1 319.7 63.0 320.4 62.8C321.1 62.6 321.7 62.5 322.4 62.4C323.1 62.2 323.7 62.1 324.4 62.0C325.1 61.8 325.7 61.7 326.4 61.6C327.1 61.5 327.7 61.3 328.4 61.2C329.1 61.1 329.7 60.9 330.4 60.8C331.1 60.7 331.7 60.6 332.4 60.5C333.1 60.3 333.7 60.2 334.4 60.1C335.1 60.0 335.7 60.0 336.4 59.9C337.1 59.8 337.7 59.7 338.4 59.7C339.1 59.6 339.7 59.6 340.4 59.6C341.1 59.5 341.7 59.5 342.4 59.5C343.1 59.5 343.7 59.5 344.4 59.5C345.1 59.5 345.7 59.5 346.4 59.6C347.1 59.6 347.7 59.7 348.4 59.8C349.1 59.9 349.7 60.0 350.4 60.1C351.1 60.2 351.7 60.4 352.4 60.6C353.1 60.7 353.7 60.9 354.4 61.2C355.1 61.4 355.7 61.7 356.4 61.9C357.1 62.2 357.7 62.5 358.4 62.8C359.1 63.1 359.7 63.5 360.4 63.8C361.1 64.1 361.7 64.5 362.4 64.9C363.1 65.2 363.7 65.6 364.4 66.0C365.1 66.4 365.7 66.9 366.4 67.3C367.1 67.7 367.7 68.2 368.4 68.7C369.1 69.2 369.7 69.7 370.4 70.3C371.1 70.8 371.7 71.3 372.4 71.9C373.1 72.4 373.7 73.0 374.4 73.6C375.1 74.2 375.7 74.8 376.4 75.3C377.1 75.9 377.7 76.5 378.4 77.1C379.1 77.7 379.7 78.3 380.4 79.0C381.1 79.6 381.7 80.2 382.4 80.8C383.1 81.5 383.7 82.1 384.4 82.8C385.1 83.4 385.7 84.1 386.4 84.7C387.1 85.4 387.7 86.0 388.4 86.7C389.1 87.4 389.7 88.0 390.4 88.7C391.1 89.4 391.7 90.0 392.4 90.7C393.1 91.5 393.7 92.2 394.4 92.9C395.1 93.7 395.7 94.5 396.4 95.3C397.1 96.2 397.7 97.0 398.4 98.0C399.1 98.9 399.7 99.9 400.4 100.8C401.1 101.8 401.7 102.8 402.4 103.8C403.1 104.8 403.7 105.7 404.4 106.7C405.1 107.6 405.9 108.5 406.4 109.3C406.9 110.1 407.4 111.2 407.6 111.6" fill="none" stroke="#9933ff" stroke-width="1.4" stroke-dasharray="3.5 2.2" stroke-linejoin="round"/>
<path d="M54.4 221.6C54.7 221.5 55.7 221.1 56.4 220.9C57.1 220.7 57.7 220.5 58.4 220.2C59.1 220.0 59.7 219.8 60.4 219.5C61.1 219.3 61.7 219.1 62.4 218.9C63.1 218.6 63.7 218.4 64.4 218.2C65.1 218.0 65.7 217.7 66.4 217.5C67.1 217.3 67.7 217.0 68.4 216.8C69.1 216.6 69.7 216.4 70.4 216.1C71.1 215.9 71.7 215.7 72.4 215.4C73.1 215.2 73.7 215.0 74.4 214.8C75.1 214.5 75.7 214.3 76.4 214.1C77.1 213.8 77.7 213.6 78.4 213.4C79.1 213.2 79.7 212.9 80.4 212.7C81.1 212.5 81.7 212.3 82.4 212.0C83.1 211.8 83.7 211.6 84.4 211.3C85.1 211.1 85.7 210.9 86.4 210.7C87.1 210.4 87.7 210.2 88.4 210.0C89.1 209.7 89.7 209.5 90.4 209.3C91.1 209.1 91.7 208.8 92.4 208.6C93.1 208.4 93.7 208.1 94.4 207.9C95.1 207.7 95.7 207.5 96.4 207.2C97.1 207.0 97.7 206.8 98.4 206.5C99.1 206.3 99.7 206.1 100.4 205.9C101.1 205.6 101.7 205.4 102.4 205.2C103.1 205.0 103.7 204.7 104.4 204.5C105.1 204.3 105.7 204.0 106.4 203.8C107.1 203.6 107.7 203.3 108.4 203.1C109.1 202.9 109.7 202.6 110.4 202.4C111.1 202.2 111.7 201.9 112.4 201.7C113.1 201.5 113.7 201.2 114.4 201.0C115.1 200.7 115.7 200.5 116.4 200.2C117.1 200.0 117.7 199.8 118.4 199.5C119.1 199.3 119.7 199.0 120.4 198.8C121.1 198.5 121.7 198.3 122.4 198.1C123.1 197.8 123.7 197.6 124.4 197.4C125.1 197.1 125.7 196.9 126.4 196.6C127.1 196.4 127.7 196.2 128.4 195.9C129.1 195.7 129.7 195.5 130.4 195.2C131.1 195.0 131.7 194.8 132.4 194.5C133.1 194.3 133.7 194.1 134.4 193.8C135.1 193.6 135.7 193.4 136.4 193.1C137.1 192.9 137.7 192.6 138.4 192.4C139.1 192.2 139.7 191.9 140.4 191.7C141.1 191.4 141.7 191.2 142.4 190.9C143.1 190.7 143.7 190.4 144.4 190.1C145.1 189.9 145.7 189.6 146.4 189.3C147.1 189.0 147.7 188.8 148.4 188.5C149.1 188.2 149.7 187.9 150.4 187.6C151.1 187.3 151.7 187.0 152.4 186.7C153.1 186.4 153.7 186.1 154.4 185.8C155.1 185.5 155.7 185.2 156.4 184.9C157.1 184.6 157.7 184.3 158.4 184.0C159.1 183.7 159.7 183.4 160.4 183.1C161.1 182.8 161.7 182.5 162.4 182.2C163.1 181.9 163.7 181.6 164.4 181.3C165.1 181.0 165.7 180.7 166.4 180.4C167.1 180.1 167.7 179.8 168.4 179.5C169.1 179.2 169.7 178.9 170.4 178.6C171.1 178.3 171.7 178.0 172.4 177.7C173.1 177.3 173.7 177.0 174.4 176.7C175.1 176.4 175.7 176.1 176.4 175.8C177.1 175.5 177.7 175.2 178.4 174.9C179.1 174.6 179.7 174.3 180.4 174.0C181.1 173.8 181.7 173.5 182.4 173.2C183.1 172.9 183.7 172.6 184.4 172.4C185.1 172.1 185.7 171.8 186.4 171.6C187.1 171.3 187.7 171.0 188.4 170.8C189.1 170.5 189.7 170.2 190.4 170.0C191.1 169.7 191.7 169.5 192.4 169.2C193.1 168.9 193.7 168.7 194.4 168.4C195.1 168.1 195.7 167.9 196.4 167.6C197.1 167.3 197.7 167.1 198.4 166.8C199.1 166.5 199.7 166.3 200.4 166.0C201.1 165.7 201.7 165.5 202.4 165.2C203.1 164.9 203.7 164.7 204.4 164.4C205.1 164.1 205.7 163.9 206.4 163.6C207.1 163.3 207.7 163.1 208.4 162.8C209.1 162.5 209.7 162.3 210.4 162.0C211.1 161.7 211.7 161.5 212.4 161.2C213.1 160.9 213.7 160.7 214.4 160.4C215.1 160.1 215.7 159.9 216.4 159.6C217.1 159.3 217.7 159.1 218.4 158.8C219.1 158.5 219.7 158.3 220.4 158.0C221.1 157.7 221.7 157.5 222.4 157.2C223.1 156.9 223.7 156.7 224.4 156.4C225.1 156.1 225.7 155.8 226.4 155.6C227.1 155.3 227.7 155.0 228.4 154.8C229.1 154.5 229.7 154.2 230.4 154.0C231.1 153.7 231.7 153.4 232.4 153.2C233.1 152.9 233.7 152.6 234.4 152.4C235.1 152.1 235.7 151.8 236.4 151.6C237.1 151.3 237.7 151.0 238.4 150.8C239.1 150.5 239.7 150.2 240.4 150.0C241.1 149.7 241.7 149.5 242.4 149.2C243.1 149.0 243.7 148.7 244.4 148.4C245.1 148.2 245.7 147.9 246.4 147.7C247.1 147.4 247.7 147.2 248.4 146.9C249.1 146.7 249.7 146.4 250.4 146.2C251.1 145.9 251.7 145.6 252.4 145.4C253.1 145.1 253.7 144.9 254.4 144.6C255.1 144.3 255.7 144.1 256.4 143.8C257.1 143.6 257.7 143.3 258.4 143.0C259.1 142.8 259.7 142.5 260.4 142.3C261.1 142.0 261.7 141.7 262.4 141.4C263.1 141.2 263.7 140.9 264.4 140.6C265.1 140.4 265.7 140.1 266.4 139.8C267.1 139.5 267.7 139.2 268.4 139.0C269.1 138.7 269.7 138.4 270.4 138.1C271.1 137.8 271.7 137.5 272.4 137.2C273.1 136.9 273.7 136.6 274.4 136.3C275.1 136.0 275.7 135.7 276.4 135.4C277.1 135.1 277.7 134.8 278.4 134.5C279.1 134.2 279.7 133.9 280.4 133.6C281.1 133.3 281.7 133.0 282.4 132.7C283.1 132.4 283.7 132.1 284.4 131.7C285.1 131.4 285.7 131.1 286.4 130.8C287.1 130.4 287.7 130.1 288.4 129.7C289.1 129.4 289.7 129.0 290.4 128.6C291.1 128.3 291.7 127.9 292.4 127.5C293.1 127.1 293.7 126.7 294.4 126.3C295.1 125.9 295.7 125.5 296.4 125.1C297.1 124.7 297.7 124.3 298.4 123.9C299.1 123.5 299.7 123.1 300.4 122.7C301.1 122.3 301.7 121.9 302.4 121.5C303.1 121.1 303.7 120.7 304.4 120.4C305.1 120.0 305.7 119.6 306.4 119.2C307.1 118.8 307.7 118.4 308.4 118.0C309.1 117.6 309.7 117.2 310.4 116.8C311.1 116.4 311.7 116.0 312.4 115.6C313.1 115.2 313.7 114.8 314.4 114.4C315.1 114.0 315.7 113.6 316.4 113.2C317.1 112.8 317.7 112.4 318.4 111.9C319.1 111.5 319.7 111.1 320.4 110.7C321.1 110.3 321.7 109.8 322.4 109.4C323.1 108.9 323.7 108.5 324.4 108.0C325.1 107.6 325.7 107.1 326.4 106.7C327.1 106.2 327.7 105.7 328.4 105.2C329.1 104.7 329.7 104.2 330.4 103.7C331.1 103.2 331.7 102.7 332.4 102.2C333.1 101.7 333.7 101.1 334.4 100.5C335.1 100.0 335.7 99.4 336.4 98.8C337.1 98.3 337.7 97.7 338.4 97.1C339.1 96.5 339.7 95.9 340.4 95.3C341.1 94.7 341.7 94.1 342.4 93.5C343.1 92.9 343.7 92.2 344.4 91.6C345.1 90.9 345.7 90.3 346.4 89.5C347.1 88.8 347.7 88.1 348.4 87.3C349.1 86.5 349.7 85.7 350.4 84.9C351.1 84.0 351.7 83.1 352.4 82.2C353.1 81.3 353.7 80.4 354.4 79.4C355.1 78.4 355.7 77.4 356.4 76.4C357.1 75.4 357.7 74.3 358.4 73.3C359.1 72.2 359.7 71.1 360.4 70.0C361.1 69.0 361.7 67.9 362.4 66.8C363.1 65.7 363.7 64.6 364.4 63.5C365.1 62.3 365.7 61.2 366.4 60.1C367.1 58.9 367.7 57.7 368.4 56.6C369.1 55.4 369.7 54.2 370.4 53.0C371.1 51.7 371.7 50.5 372.4 49.3C373.1 48.0 373.7 46.7 374.4 45.4C375.1 44.1 375.7 42.8 376.4 41.4C377.1 40.0 377.7 38.6 378.4 37.1C379.1 35.7 379.7 34.1 380.4 32.6C381.1 31.1 381.7 29.5 382.4 27.9C383.1 26.3 383.7 24.7 384.4 23.1C385.1 21.6 385.7 20.1 386.4 18.7C387.1 17.3 388.0 15.9 388.4 14.7C388.8 13.5 388.9 12.0 389.0 11.5" fill="none" stroke="#000000" stroke-width="1.4" stroke-dasharray="3.5 2.2" stroke-linejoin="round"/>
<path d="M54.4 246.0C54.7 245.9 55.7 245.6 56.4 245.3C57.1 245.1 57.7 244.9 58.4 244.7C59.1 244.4 59.7 244.2 60.4 244.0C61.1 243.8 61.7 243.5 62.4 243.3C63.1 243.1 63.7 242.9 64.4 242.6C65.1 242.4 65.7 242.2 66.4 242.0C67.1 241.8 67.7 241.5 68.4 241.3C69.1 241.1 69.7 240.9 70.4 240.6C71.1 240.4 71.7 240.2 72.4 240.0C73.1 239.7 73.7 239.5 74.4 239.3C75.1 239.1 75.7 238.9 76.4 238.6C77.1 238.4 77.7 238.2 78.4 238.0C79.1 237.7 79.7 237.5 80.4 237.3C81.1 237.1 81.7 236.8 82.4 236.6C83.1 236.4 83.7 236.2 84.4 235.9C85.1 235.7 85.7 235.5 86.4 235.3C87.1 235.1 87.7 234.8 88.4 234.6C89.1 234.4 89.7 234.2 90.4 233.9C91.1 233.7 91.7 233.5 92.4 233.3C93.1 233.0 93.7 232.8 94.4 232.6C95.1 232.4 95.7 232.2 96.4 231.9C97.1 231.7 97.7 231.5 98.4 231.3C99.1 231.0 99.7 230.8 100.4 230.6C101.1 230.4 101.7 230.1 102.4 229.9C103.1 229.7 103.7 229.5 104.4 229.2C105.1 229.0 105.7 228.8 106.4 228.6C107.1 228.3 107.7 228.1 108.4 227.9C109.1 227.6 109.7 227.4 110.4 227.1C111.1 226.9 111.7 226.7 112.4 226.4C113.1 226.1 113.7 225.9 114.4 225.6C115.1 225.4 115.7 225.1 116.4 224.8C117.1 224.5 117.7 224.3 118.4 224.0C119.1 223.7 119.7 223.5 120.4 223.2C121.1 222.9 121.7 222.7 122.4 222.4C123.1 222.2 123.7 221.9 124.4 221.6C125.1 221.4 125.7 221.1 126.4 220.9C127.1 220.6 127.7 220.4 128.4 220.1C129.1 219.8 129.7 219.6 130.4 219.3C131.1 219.1 131.7 218.8 132.4 218.6C133.1 218.3 133.7 218.1 134.4 217.8C135.1 217.6 135.7 217.3 136.4 217.0C137.1 216.8 137.7 216.5 138.4 216.3C139.1 216.0 139.7 215.8 140.4 215.5C141.1 215.3 141.7 215.0 142.4 214.8C143.1 214.5 143.7 214.2 144.4 214.0C145.1 213.7 145.7 213.5 146.4 213.2C147.1 212.9 147.7 212.7 148.4 212.4C149.1 212.1 149.7 211.9 150.4 211.6C151.1 211.4 151.7 211.1 152.4 210.8C153.1 210.6 153.7 210.3 154.4 210.0C155.1 209.8 155.7 209.5 156.4 209.2C157.1 209.0 157.7 208.7 158.4 208.5C159.1 208.2 159.7 207.9 160.4 207.7C161.1 207.4 161.7 207.1 162.4 206.9C163.1 206.6 163.7 206.3 164.4 206.1C165.1 205.8 165.7 205.6 166.4 205.3C167.1 205.0 167.7 204.8 168.4 204.5C169.1 204.2 169.7 204.0 170.4 203.7C171.1 203.4 171.7 203.2 172.4 202.9C173.1 202.6 173.7 202.4 174.4 202.1C175.1 201.8 175.7 201.6 176.4 201.3C177.1 201.0 177.7 200.8 178.4 200.5C179.1 200.2 179.7 199.9 180.4 199.7C181.1 199.4 181.7 199.1 182.4 198.9C183.1 198.6 183.7 198.3 184.4 198.1C185.1 197.8 185.7 197.5 186.4 197.3C187.1 197.0 187.7 196.7 188.4 196.5C189.1 196.2 189.7 195.9 190.4 195.7C191.1 195.4 191.7 195.1 192.4 194.8C193.1 194.6 193.7 194.3 194.4 194.0C195.1 193.7 195.7 193.5 196.4 193.2C197.1 192.9 197.7 192.6 198.4 192.3C199.1 192.1 199.7 191.8 200.4 191.5C201.1 191.2 201.7 190.9 202.4 190.6C203.1 190.4 203.7 190.1 204.4 189.8C205.1 189.5 205.7 189.2 206.4 189.0C207.1 188.7 207.7 188.4 208.4 188.1C209.1 187.8 209.7 187.5 210.4 187.3C211.1 187.0 211.7 186.7 212.4 186.4C213.1 186.1 213.7 185.8 214.4 185.6C215.1 185.3 215.7 185.0 216.4 184.7C217.1 184.4 217.7 184.1 218.4 183.8C219.1 183.5 219.7 183.2 220.4 182.9C221.1 182.6 221.7 182.3 222.4 182.0C223.1 181.6 223.7 181.3 224.4 181.0C225.1 180.7 225.7 180.4 226.4 180.1C227.1 179.8 227.7 179.5 228.4 179.2C229.1 178.9 229.7 178.6 230.4 178.3C231.1 178.0 231.7 177.8 232.4 177.5C233.1 177.2 233.7 176.9 234.4 176.7C235.1 176.4 235.7 176.1 236.4 175.8C237.1 175.5 237.7 175.3 238.4 175.0C239.1 174.7 239.7 174.4 240.4 174.2C241.1 173.9 241.7 173.6 242.4 173.3C243.1 173.0 243.7 172.7 244.4 172.5C245.1 172.2 245.7 171.9 246.4 171.6C247.1 171.3 247.7 171.0 248.4 170.7C249.1 170.4 249.7 170.1 250.4 169.8C251.1 169.5 251.7 169.3 252.4 169.0C253.1 168.7 253.7 168.4 254.4 168.1C255.1 167.8 255.7 167.5 256.4 167.3C257.1 167.0 257.7 166.7 258.4 166.4C259.1 166.2 259.7 165.9 260.4 165.6C261.1 165.3 261.7 165.1 262.4 164.8C263.1 164.5 263.7 164.2 264.4 164.0C265.1 163.7 265.7 163.4 266.4 163.1C267.1 162.9 267.7 162.6 268.4 162.3C269.1 162.0 269.7 161.7 270.4 161.4C271.1 161.2 271.7 160.9 272.4 160.6C273.1 160.3 273.7 160.0 274.4 159.7C275.1 159.5 275.7 159.2 276.4 158.9C277.1 158.7 277.7 158.4 278.4 158.1C279.1 157.9 279.7 157.6 280.4 157.3C281.1 157.1 281.7 156.8 282.4 156.6C283.1 156.3 283.7 156.1 284.4 155.8C285.1 155.6 285.7 155.3 286.4 155.1C287.1 154.8 287.7 154.6 288.4 154.3C289.1 154.1 289.7 153.8 290.4 153.5C291.1 153.3 291.7 153.0 292.4 152.8C293.1 152.5 293.7 152.2 294.4 152.0C295.1 151.7 295.7 151.4 296.4 151.1C297.1 150.9 297.7 150.6 298.4 150.3C299.1 150.0 299.7 149.7 300.4 149.4C301.1 149.1 301.7 148.8 302.4 148.4C303.1 148.1 303.7 147.8 304.4 147.5C305.1 147.2 305.7 146.8 306.4 146.5C307.1 146.2 307.7 145.8 308.4 145.5C309.1 145.2 309.7 144.8 310.4 144.5C311.1 144.2 311.7 143.8 312.4 143.5C313.1 143.2 313.7 142.8 314.4 142.5C315.1 142.2 315.7 141.9 316.4 141.5C317.1 141.2 317.7 140.9 318.4 140.5C319.1 140.2 319.7 139.9 320.4 139.5C321.1 139.2 321.7 138.9 322.4 138.5C323.1 138.2 323.7 137.9 324.4 137.5C325.1 137.2 325.7 136.9 326.4 136.5C327.1 136.2 327.7 135.9 328.4 135.5C329.1 135.2 329.7 134.9 330.4 134.6C331.1 134.2 331.7 133.9 332.4 133.6C333.1 133.3 333.7 133.0 334.4 132.6C335.1 132.3 335.7 132.0 336.4 131.7C337.1 131.3 337.7 131.0 338.4 130.6C339.1 130.3 339.7 129.9 340.4 129.5C341.1 129.2 341.7 128.7 342.4 128.3C343.1 127.9 343.7 127.5 344.4 127.0C345.1 126.6 345.7 126.1 346.4 125.6C347.1 125.1 347.7 124.6 348.4 124.1C349.1 123.6 349.7 123.1 350.4 122.6C351.1 122.1 351.7 121.6 352.4 121.0C353.1 120.5 353.7 119.9 354.4 119.4C355.1 118.8 355.7 118.2 356.4 117.6C357.1 117.0 357.7 116.4 358.4 115.8C359.1 115.2 359.7 114.5 360.4 113.9C361.1 113.2 361.7 112.6 362.4 111.9C363.1 111.2 363.7 110.6 364.4 109.9C365.1 109.2 365.7 108.5 366.4 107.8C367.1 107.0 367.7 106.3 368.4 105.6C369.1 104.9 369.7 104.1 370.4 103.4C371.1 102.7 371.7 101.9 372.4 101.2C373.1 100.4 373.7 99.6 374.4 98.9C375.1 98.1 375.7 97.3 376.4 96.5C377.1 95.6 377.7 94.8 378.4 93.9C379.1 93.1 379.7 92.2 380.4 91.2C381.1 90.3 381.7 89.3 382.4 88.3C383.1 87.4 383.7 86.3 384.4 85.3C385.1 84.3 385.7 83.2 386.4 82.1C387.1 81.0 387.7 79.9 388.4 78.8C389.1 77.7 389.7 76.5 390.4 75.3C391.1 74.2 391.7 73.0 392.4 71.7C393.1 70.5 393.7 69.2 394.4 67.9C395.1 66.6 395.7 65.3 396.4 63.9C397.1 62.5 397.7 61.1 398.4 59.6C399.1 58.2 399.7 56.7 400.4 55.2C401.1 53.7 401.7 52.1 402.4 50.6C403.1 49.1 403.7 47.5 404.4 46.0C405.1 44.6 405.9 43.1 406.4 41.7C406.9 40.4 407.4 38.5 407.6 37.8" fill="none" stroke="#ff6a1a" stroke-width="1.4" stroke-dasharray="3.5 2.2" stroke-linejoin="round"/>
<g clip-path="url(#cpr)">
<path d="M54.4 217.0C54.7 216.8 55.7 216.4 56.4 216.1C57.1 215.8 57.7 215.5 58.4 215.2C59.1 214.9 59.7 214.6 60.4 214.3C61.1 214.0 61.7 213.6 62.4 213.3C63.1 213.0 63.7 212.7 64.4 212.4C65.1 212.1 65.7 211.8 66.4 211.5C67.1 211.2 67.7 210.9 68.4 210.6C69.1 210.3 69.7 210.0 70.4 209.8C71.1 209.5 71.7 209.2 72.4 208.9C73.1 208.6 73.7 208.4 74.4 208.1C75.1 207.8 75.7 207.6 76.4 207.3C77.1 207.0 77.7 206.7 78.4 206.5C79.1 206.2 79.7 205.9 80.4 205.7C81.1 205.4 81.7 205.1 82.4 204.8C83.1 204.6 83.7 204.3 84.4 204.0C85.1 203.8 85.7 203.5 86.4 203.2C87.1 203.0 87.7 202.7 88.4 202.4C89.1 202.2 89.7 201.9 90.4 201.7C91.1 201.4 91.7 201.2 92.4 201.0C93.1 200.7 93.7 200.5 94.4 200.2C95.1 200.0 95.7 199.8 96.4 199.5C97.1 199.3 97.7 199.1 98.4 198.8C99.1 198.6 99.7 198.4 100.4 198.1C101.1 197.9 101.7 197.7 102.4 197.4C103.1 197.2 103.7 197.0 104.4 196.7C105.1 196.5 105.7 196.3 106.4 196.0C107.1 195.8 107.7 195.6 108.4 195.4C109.1 195.2 109.7 195.0 110.4 194.8C111.1 194.5 111.7 194.4 112.4 194.2C113.1 194.0 113.7 193.8 114.4 193.6C115.1 193.4 115.7 193.2 116.4 193.0C117.1 192.8 117.7 192.7 118.4 192.5C119.1 192.3 119.7 192.1 120.4 192.0C121.1 191.8 121.7 191.6 122.4 191.5C123.1 191.3 123.7 191.2 124.4 191.0C125.1 190.9 125.7 190.7 126.4 190.6C127.1 190.4 127.7 190.3 128.4 190.2C129.1 190.0 129.7 189.9 130.4 189.8C131.1 189.6 131.7 189.5 132.4 189.4C133.1 189.3 133.7 189.2 134.4 189.1C135.1 189.0 135.7 188.9 136.4 188.8C137.1 188.7 137.7 188.7 138.4 188.6C139.1 188.5 139.7 188.4 140.4 188.4C141.1 188.3 141.7 188.2 142.4 188.2C143.1 188.1 143.7 188.0 144.4 188.0C145.1 187.9 145.7 187.9 146.4 187.8C147.1 187.8 147.7 187.8 148.4 187.7C149.1 187.7 149.7 187.7 150.4 187.7C151.1 187.6 151.7 187.6 152.4 187.6C153.1 187.6 153.7 187.5 154.4 187.5C155.1 187.5 155.7 187.5 156.4 187.5C157.1 187.5 157.7 187.5 158.4 187.5C159.1 187.5 159.7 187.5 160.4 187.6C161.1 187.6 161.7 187.6 162.4 187.6C163.1 187.7 163.7 187.7 164.4 187.7C165.1 187.7 165.7 187.8 166.4 187.8C167.1 187.8 167.7 187.9 168.4 187.9C169.1 187.9 169.7 188.0 170.4 188.0C171.1 188.0 171.7 188.1 172.4 188.1C173.1 188.2 173.7 188.2 174.4 188.2C175.1 188.3 175.7 188.3 176.4 188.3C177.1 188.3 177.7 188.3 178.4 188.2C179.1 188.2 179.7 188.1 180.4 188.0C181.1 187.9 181.7 187.8 182.4 187.7C183.1 187.5 183.7 187.3 184.4 187.1C185.1 186.9 185.7 186.7 186.4 186.4C187.1 186.2 187.7 185.9 188.4 185.6C189.1 185.3 189.7 185.0 190.4 184.7C191.1 184.4 191.7 184.0 192.4 183.7C193.1 183.3 193.7 183.0 194.4 182.6C195.1 182.2 195.7 181.8 196.4 181.4C197.1 181.0 197.7 180.6 198.4 180.2C199.1 179.8 199.7 179.4 200.4 179.0C201.1 178.5 201.7 178.1 202.4 177.7C203.1 177.2 203.7 176.8 204.4 176.4C205.1 175.9 205.7 175.5 206.4 175.1C207.1 174.6 207.7 174.2 208.4 173.7C209.1 173.2 209.7 172.8 210.4 172.3C211.1 171.8 211.7 171.3 212.4 170.8C213.1 170.3 213.7 169.7 214.4 169.2C215.1 168.7 215.7 168.2 216.4 167.6C217.1 167.1 217.7 166.5 218.4 166.0C219.1 165.4 219.7 164.9 220.4 164.3C221.1 163.7 221.7 163.1 222.4 162.5C223.1 162.0 223.7 161.3 224.4 160.7C225.1 160.1 225.7 159.5 226.4 158.9C227.1 158.3 227.7 157.7 228.4 157.0C229.1 156.4 229.7 155.8 230.4 155.1C231.1 154.5 231.7 153.8 232.4 153.2C233.1 152.5 233.7 151.9 234.4 151.2C235.1 150.5 235.7 149.9 236.4 149.2C237.1 148.5 237.7 147.9 238.4 147.2C239.1 146.5 239.7 145.9 240.4 145.2C241.1 144.5 241.7 143.9 242.4 143.2C243.1 142.5 243.7 141.9 244.4 141.2C245.1 140.5 245.7 139.9 246.4 139.2C247.1 138.6 247.7 137.9 248.4 137.3C249.1 136.6 249.7 136.0 250.4 135.4C251.1 134.7 251.7 134.1 252.4 133.5C253.1 132.8 253.7 132.2 254.4 131.6C255.1 130.9 255.7 130.3 256.4 129.7C257.1 129.0 257.7 128.4 258.4 127.7C259.1 127.1 259.7 126.4 260.4 125.8C261.1 125.2 261.7 124.5 262.4 123.9C263.1 123.3 263.7 122.8 264.4 122.2C265.1 121.6 265.7 121.1 266.4 120.5C267.1 120.0 267.7 119.4 268.4 118.9C269.1 118.3 269.7 117.8 270.4 117.2C271.1 116.6 271.7 116.0 272.4 115.5C273.1 114.9 273.7 114.3 274.4 113.7C275.1 113.1 275.7 112.5 276.4 111.9C277.1 111.3 277.7 110.7 278.4 110.1C279.1 109.5 279.7 108.9 280.4 108.3C281.1 107.7 281.7 107.1 282.4 106.5C283.1 105.9 283.7 105.3 284.4 104.7C285.1 104.1 285.7 103.5 286.4 102.9C287.1 102.3 287.7 101.7 288.4 101.0C289.1 100.4 289.7 99.8 290.4 99.1C291.1 98.5 291.7 97.8 292.4 97.1C293.1 96.5 293.7 95.8 294.4 95.1C295.1 94.5 295.7 93.8 296.4 93.1C297.1 92.5 297.7 91.8 298.4 91.1C299.1 90.5 299.7 89.8 300.4 89.1C301.1 88.5 301.7 87.8 302.4 87.1C303.1 86.5 303.7 85.8 304.4 85.2C305.1 84.5 305.7 83.9 306.4 83.3C307.1 82.7 307.7 82.1 308.4 81.5C309.1 81.0 309.7 80.4 310.4 79.9C311.1 79.4 311.7 79.0 312.4 78.6C313.1 78.2 313.7 77.8 314.4 77.4C315.1 77.1 315.7 76.8 316.4 76.6C317.1 76.3 317.7 76.1 318.4 75.9C319.1 75.7 319.7 75.6 320.4 75.5C321.1 75.4 321.7 75.4 322.4 75.4C323.1 75.4 323.7 75.5 324.4 75.6C325.1 75.8 325.7 75.9 326.4 76.2C327.1 76.4 327.7 76.6 328.4 76.9C329.1 77.2 329.7 77.6 330.4 77.9C331.1 78.3 331.7 78.6 332.4 79.0C333.1 79.4 333.7 79.8 334.4 80.2C335.1 80.6 335.7 81.0 336.4 81.4C337.1 81.8 337.7 82.2 338.4 82.5C339.1 82.9 339.7 83.3 340.4 83.6C341.1 84.0 341.7 84.3 342.4 84.7C343.1 85.0 343.7 85.4 344.4 85.8C345.1 86.1 345.7 86.5 346.4 86.9C347.1 87.3 347.7 87.6 348.4 88.0C349.1 88.4 349.7 88.8 350.4 89.2C351.1 89.6 351.7 90.0 352.4 90.4C353.1 90.8 353.7 91.2 354.4 91.6C355.1 92.1 355.7 92.5 356.4 92.9C357.1 93.3 357.7 93.8 358.4 94.2C359.1 94.7 359.7 95.1 360.4 95.6C361.1 96.1 361.7 96.6 362.4 97.1C363.1 97.6 363.7 98.2 364.4 98.7C365.1 99.3 365.7 100.0 366.4 100.6C367.1 101.3 367.7 102.0 368.4 102.8C369.1 103.5 369.7 104.3 370.4 105.1C371.1 106.0 371.7 106.8 372.4 107.7C373.1 108.5 373.7 109.4 374.4 110.3C375.1 111.2 375.7 112.1 376.4 113.0C377.1 113.9 377.7 114.8 378.4 115.8C379.1 116.8 379.7 117.8 380.4 118.8C381.1 119.9 381.7 121.0 382.4 122.1C383.1 123.2 383.7 124.3 384.4 125.4C385.1 126.6 385.7 127.7 386.4 128.9C387.1 130.0 387.7 131.2 388.4 132.3C389.1 133.5 389.7 134.7 390.4 136.0C391.1 137.2 391.7 138.5 392.4 139.8C393.1 141.1 393.7 142.4 394.4 143.6C395.1 144.8 395.7 146.0 396.4 147.2C397.1 148.3 397.7 149.4 398.4 150.5C399.1 151.6 399.7 152.7 400.4 153.8C401.1 154.8 401.7 155.8 402.4 156.8C403.1 157.8 403.7 158.7 404.4 159.5C405.1 160.3 405.9 161.1 406.4 161.8C406.9 162.4 407.4 163.3 407.6 163.6" fill="none" stroke="#000000" stroke-width="2.9" stroke-linejoin="round"/>
<path d="M54.4 199.3C54.7 199.1 55.7 198.5 56.4 198.1C57.1 197.7 57.7 197.3 58.4 196.9C59.1 196.5 59.7 196.1 60.4 195.7C61.1 195.3 61.7 194.9 62.4 194.5C63.1 194.1 63.7 193.8 64.4 193.4C65.1 193.0 65.7 192.6 66.4 192.2C67.1 191.8 67.7 191.4 68.4 191.1C69.1 190.7 69.7 190.4 70.4 190.0C71.1 189.7 71.7 189.3 72.4 189.0C73.1 188.7 73.7 188.4 74.4 188.1C75.1 187.8 75.7 187.5 76.4 187.2C77.1 186.9 77.7 186.6 78.4 186.3C79.1 186.0 79.7 185.7 80.4 185.4C81.1 185.1 81.7 184.8 82.4 184.5C83.1 184.2 83.7 183.9 84.4 183.6C85.1 183.3 85.7 183.0 86.4 182.7C87.1 182.4 87.7 182.1 88.4 181.9C89.1 181.6 89.7 181.4 90.4 181.1C91.1 180.9 91.7 180.7 92.4 180.4C93.1 180.2 93.7 180.0 94.4 179.8C95.1 179.6 95.7 179.4 96.4 179.2C97.1 179.0 97.7 178.8 98.4 178.6C99.1 178.4 99.7 178.2 100.4 178.0C101.1 177.8 101.7 177.6 102.4 177.4C103.1 177.2 103.7 177.0 104.4 176.8C105.1 176.6 105.7 176.4 106.4 176.2C107.1 176.0 107.7 175.8 108.4 175.6C109.1 175.5 109.7 175.3 110.4 175.1C111.1 174.9 111.7 174.8 112.4 174.6C113.1 174.5 113.7 174.3 114.4 174.1C115.1 174.0 115.7 173.8 116.4 173.7C117.1 173.5 117.7 173.4 118.4 173.2C119.1 173.1 119.7 172.9 120.4 172.7C121.1 172.6 121.7 172.4 122.4 172.3C123.1 172.1 123.7 172.0 124.4 171.8C125.1 171.7 125.7 171.5 126.4 171.4C127.1 171.2 127.7 171.1 128.4 170.9C129.1 170.8 129.7 170.6 130.4 170.5C131.1 170.4 131.7 170.3 132.4 170.2C133.1 170.0 133.7 169.9 134.4 169.8C135.1 169.7 135.7 169.6 136.4 169.5C137.1 169.4 137.7 169.3 138.4 169.2C139.1 169.1 139.7 169.0 140.4 168.9C141.1 168.8 141.7 168.7 142.4 168.6C143.1 168.5 143.7 168.4 144.4 168.3C145.1 168.2 145.7 168.1 146.4 168.0C147.1 167.9 147.7 167.8 148.4 167.7C149.1 167.7 149.7 167.6 150.4 167.5C151.1 167.4 151.7 167.3 152.4 167.2C153.1 167.1 153.7 167.0 154.4 167.0C155.1 166.9 155.7 166.8 156.4 166.7C157.1 166.7 157.7 166.6 158.4 166.6C159.1 166.5 159.7 166.5 160.4 166.5C161.1 166.4 161.7 166.4 162.4 166.4C163.1 166.3 163.7 166.3 164.4 166.3C165.1 166.3 165.7 166.3 166.4 166.2C167.1 166.2 167.7 166.2 168.4 166.2C169.1 166.3 169.7 166.3 170.4 166.3C171.1 166.3 171.7 166.4 172.4 166.4C173.1 166.4 173.7 166.5 174.4 166.5C175.1 166.5 175.7 166.6 176.4 166.6C177.1 166.6 177.7 166.6 178.4 166.5C179.1 166.5 179.7 166.4 180.4 166.3C181.1 166.3 181.7 166.1 182.4 166.0C183.1 165.9 183.7 165.7 184.4 165.6C185.1 165.4 185.7 165.3 186.4 165.1C187.1 164.9 187.7 164.7 188.4 164.5C189.1 164.3 189.7 164.0 190.4 163.8C191.1 163.5 191.7 163.2 192.4 162.9C193.1 162.6 193.7 162.3 194.4 162.0C195.1 161.7 195.7 161.3 196.4 161.0C197.1 160.6 197.7 160.3 198.4 159.9C199.1 159.5 199.7 159.1 200.4 158.7C201.1 158.3 201.7 157.9 202.4 157.4C203.1 157.0 203.7 156.5 204.4 156.1C205.1 155.6 205.7 155.1 206.4 154.7C207.1 154.2 207.7 153.7 208.4 153.2C209.1 152.7 209.7 152.2 210.4 151.7C211.1 151.2 211.7 150.7 212.4 150.2C213.1 149.6 213.7 149.1 214.4 148.6C215.1 148.1 215.7 147.5 216.4 147.0C217.1 146.5 217.7 145.9 218.4 145.4C219.1 144.9 219.7 144.3 220.4 143.8C221.1 143.3 221.7 142.7 222.4 142.2C223.1 141.6 223.7 141.1 224.4 140.6C225.1 140.0 225.7 139.5 226.4 138.9C227.1 138.4 227.7 137.8 228.4 137.3C229.1 136.7 229.7 136.1 230.4 135.6C231.1 135.0 231.7 134.4 232.4 133.8C233.1 133.2 233.7 132.6 234.4 132.0C235.1 131.4 235.7 130.8 236.4 130.2C237.1 129.6 237.7 129.0 238.4 128.3C239.1 127.7 239.7 127.1 240.4 126.4C241.1 125.8 241.7 125.1 242.4 124.4C243.1 123.8 243.7 123.1 244.4 122.4C245.1 121.6 245.7 120.9 246.4 120.1C247.1 119.4 247.7 118.6 248.4 117.8C249.1 117.0 249.7 116.1 250.4 115.3C251.1 114.5 251.7 113.7 252.4 112.9C253.1 112.2 253.7 111.4 254.4 110.7C255.1 110.0 255.7 109.3 256.4 108.6C257.1 107.9 257.7 107.3 258.4 106.6C259.1 105.9 259.7 105.3 260.4 104.6C261.1 103.9 261.7 103.3 262.4 102.6C263.1 101.9 263.7 101.3 264.4 100.6C265.1 99.9 265.7 99.3 266.4 98.6C267.1 98.0 267.7 97.3 268.4 96.7C269.1 96.0 269.7 95.4 270.4 94.8C271.1 94.1 271.7 93.5 272.4 92.9C273.1 92.3 273.7 91.7 274.4 91.1C275.1 90.5 275.7 89.9 276.4 89.3C277.1 88.7 277.7 88.1 278.4 87.5C279.1 86.9 279.7 86.3 280.4 85.7C281.1 85.1 281.7 84.5 282.4 83.9C283.1 83.3 283.7 82.7 284.4 82.1C285.1 81.5 285.7 80.9 286.4 80.3C287.1 79.7 287.7 79.2 288.4 78.6C289.1 78.1 289.7 77.6 290.4 77.1C291.1 76.6 291.7 76.1 292.4 75.6C293.1 75.1 293.7 74.6 294.4 74.0C295.1 73.5 295.7 72.9 296.4 72.3C297.1 71.7 297.7 71.0 298.4 70.4C299.1 69.7 299.7 69.0 300.4 68.3C301.1 67.6 301.7 66.9 302.4 66.2C303.1 65.5 303.7 64.8 304.4 64.2C305.1 63.5 305.7 62.9 306.4 62.3C307.1 61.7 307.7 61.1 308.4 60.6C309.1 60.0 309.7 59.5 310.4 59.0C311.1 58.6 311.7 58.1 312.4 57.8C313.1 57.4 313.7 57.1 314.4 56.8C315.1 56.5 315.7 56.3 316.4 56.1C317.1 56.0 317.7 55.8 318.4 55.7C319.1 55.7 319.7 55.6 320.4 55.6C321.1 55.7 321.7 55.8 322.4 55.9C323.1 56.0 323.7 56.2 324.4 56.3C325.1 56.5 325.7 56.8 326.4 57.0C327.1 57.2 327.7 57.5 328.4 57.8C329.1 58.1 329.7 58.4 330.4 58.7C331.1 59.1 331.7 59.4 332.4 59.7C333.1 60.0 333.7 60.4 334.4 60.7C335.1 61.0 335.7 61.3 336.4 61.5C337.1 61.8 337.7 62.0 338.4 62.3C339.1 62.5 339.7 62.7 340.4 62.9C341.1 63.1 341.7 63.3 342.4 63.5C343.1 63.7 343.7 63.9 344.4 64.0C345.1 64.2 345.7 64.4 346.4 64.6C347.1 64.7 347.7 64.9 348.4 65.1C349.1 65.2 349.7 65.4 350.4 65.5C351.1 65.7 351.7 65.9 352.4 66.0C353.1 66.2 353.7 66.4 354.4 66.6C355.1 66.7 355.7 66.9 356.4 67.1C357.1 67.3 357.7 67.5 358.4 67.7C359.1 68.0 359.7 68.2 360.4 68.5C361.1 68.7 361.7 69.0 362.4 69.3C363.1 69.6 363.7 69.9 364.4 70.3C365.1 70.7 365.7 71.0 366.4 71.5C367.1 71.9 367.7 72.3 368.4 72.8C369.1 73.2 369.7 73.7 370.4 74.2C371.1 74.7 371.7 75.3 372.4 75.8C373.1 76.3 373.7 76.9 374.4 77.4C375.1 77.9 375.7 78.4 376.4 78.9C377.1 79.3 377.7 79.8 378.4 80.2C379.1 80.6 379.7 81.0 380.4 81.4C381.1 81.9 381.7 82.3 382.4 82.7C383.1 83.2 383.7 83.7 384.4 84.3C385.1 84.8 385.7 85.4 386.4 86.0C387.1 86.6 387.7 87.3 388.4 88.0C389.1 88.7 389.7 89.4 390.4 90.1C391.1 90.9 391.7 91.6 392.4 92.4C393.1 93.2 393.7 93.9 394.4 94.7C395.1 95.5 395.7 96.3 396.4 97.2C397.1 98.0 397.7 98.8 398.4 99.7C399.1 100.6 399.7 101.4 400.4 102.3C401.1 103.2 401.7 104.1 402.4 105.0C403.1 105.9 403.7 106.8 404.4 107.6C405.1 108.5 405.9 109.3 406.4 110.1C406.9 110.9 407.4 111.9 407.6 112.3" fill="none" stroke="#cc0000" stroke-width="2.7" stroke-linejoin="round"/>
<path d="M54.4 178.6C54.7 178.4 55.7 177.9 56.4 177.5C57.1 177.2 57.7 176.8 58.4 176.5C59.1 176.1 59.7 175.8 60.4 175.4C61.1 175.1 61.7 174.7 62.4 174.4C63.1 174.0 63.7 173.7 64.4 173.3C65.1 173.0 65.7 172.6 66.4 172.3C67.1 171.9 67.7 171.6 68.4 171.2C69.1 170.9 69.7 170.6 70.4 170.3C71.1 169.9 71.7 169.6 72.4 169.3C73.1 169.0 73.7 168.7 74.4 168.4C75.1 168.1 75.7 167.8 76.4 167.5C77.1 167.2 77.7 166.9 78.4 166.6C79.1 166.3 79.7 166.0 80.4 165.7C81.1 165.4 81.7 165.1 82.4 164.8C83.1 164.5 83.7 164.2 84.4 163.9C85.1 163.7 85.7 163.4 86.4 163.1C87.1 162.8 87.7 162.5 88.4 162.3C89.1 162.0 89.7 161.7 90.4 161.5C91.1 161.3 91.7 161.0 92.4 160.8C93.1 160.6 93.7 160.4 94.4 160.2C95.1 160.0 95.7 159.8 96.4 159.6C97.1 159.4 97.7 159.1 98.4 158.9C99.1 158.7 99.7 158.5 100.4 158.3C101.1 158.1 101.7 157.9 102.4 157.7C103.1 157.5 103.7 157.3 104.4 157.1C105.1 156.9 105.7 156.7 106.4 156.5C107.1 156.3 107.7 156.1 108.4 155.9C109.1 155.7 109.7 155.5 110.4 155.4C111.1 155.2 111.7 155.0 112.4 154.8C113.1 154.6 113.7 154.5 114.4 154.3C115.1 154.1 115.7 153.9 116.4 153.8C117.1 153.6 117.7 153.4 118.4 153.2C119.1 153.1 119.7 152.9 120.4 152.7C121.1 152.5 121.7 152.4 122.4 152.2C123.1 152.0 123.7 151.8 124.4 151.7C125.1 151.5 125.7 151.3 126.4 151.1C127.1 151.0 127.7 150.8 128.4 150.6C129.1 150.5 129.7 150.3 130.4 150.1C131.1 149.9 131.7 149.8 132.4 149.6C133.1 149.4 133.7 149.3 134.4 149.1C135.1 148.9 135.7 148.8 136.4 148.6C137.1 148.5 137.7 148.3 138.4 148.2C139.1 148.0 139.7 147.9 140.4 147.7C141.1 147.6 141.7 147.5 142.4 147.4C143.1 147.3 143.7 147.2 144.4 147.1C145.1 147.0 145.7 146.9 146.4 146.8C147.1 146.7 147.7 146.6 148.4 146.5C149.1 146.4 149.7 146.3 150.4 146.2C151.1 146.1 151.7 146.0 152.4 146.0C153.1 145.9 153.7 145.8 154.4 145.7C155.1 145.6 155.7 145.5 156.4 145.5C157.1 145.4 157.7 145.4 158.4 145.3C159.1 145.3 159.7 145.3 160.4 145.3C161.1 145.2 161.7 145.2 162.4 145.2C163.1 145.2 163.7 145.2 164.4 145.2C165.1 145.3 165.7 145.3 166.4 145.3C167.1 145.3 167.7 145.3 168.4 145.3C169.1 145.3 169.7 145.3 170.4 145.3C171.1 145.3 171.7 145.3 172.4 145.3C173.1 145.3 173.7 145.3 174.4 145.3C175.1 145.2 175.7 145.2 176.4 145.2C177.1 145.2 177.7 145.2 178.4 145.1C179.1 145.1 179.7 145.0 180.4 144.9C181.1 144.8 181.7 144.7 182.4 144.6C183.1 144.5 183.7 144.4 184.4 144.2C185.1 144.1 185.7 143.9 186.4 143.7C187.1 143.5 187.7 143.3 188.4 143.1C189.1 142.8 189.7 142.5 190.4 142.2C191.1 141.9 191.7 141.6 192.4 141.3C193.1 140.9 193.7 140.6 194.4 140.2C195.1 139.8 195.7 139.4 196.4 139.0C197.1 138.5 197.7 138.1 198.4 137.6C199.1 137.1 199.7 136.7 200.4 136.2C201.1 135.7 201.7 135.2 202.4 134.7C203.1 134.2 203.7 133.7 204.4 133.2C205.1 132.7 205.7 132.2 206.4 131.7C207.1 131.2 207.7 130.7 208.4 130.2C209.1 129.7 209.7 129.2 210.4 128.7C211.1 128.2 211.7 127.7 212.4 127.2C213.1 126.7 213.7 126.2 214.4 125.7C215.1 125.2 215.7 124.7 216.4 124.2C217.1 123.7 217.7 123.2 218.4 122.6C219.1 122.1 219.7 121.5 220.4 120.9C221.1 120.4 221.7 119.8 222.4 119.2C223.1 118.6 223.7 118.0 224.4 117.4C225.1 116.8 225.7 116.2 226.4 115.5C227.1 114.9 227.7 114.3 228.4 113.7C229.1 113.1 229.7 112.5 230.4 111.9C231.1 111.3 231.7 110.7 232.4 110.1C233.1 109.5 233.7 108.9 234.4 108.3C235.1 107.7 235.7 107.1 236.4 106.5C237.1 105.9 237.7 105.3 238.4 104.7C239.1 104.1 239.7 103.4 240.4 102.8C241.1 102.2 241.7 101.5 242.4 100.9C243.1 100.2 243.7 99.6 244.4 98.9C245.1 98.2 245.7 97.6 246.4 96.9C247.1 96.2 247.7 95.6 248.4 94.9C249.1 94.2 249.7 93.6 250.4 92.9C251.1 92.3 251.7 91.6 252.4 90.9C253.1 90.3 253.7 89.6 254.4 89.0C255.1 88.3 255.7 87.6 256.4 87.0C257.1 86.3 257.7 85.7 258.4 85.0C259.1 84.4 259.7 83.8 260.4 83.1C261.1 82.5 261.7 81.9 262.4 81.3C263.1 80.7 263.7 80.0 264.4 79.4C265.1 78.8 265.7 78.2 266.4 77.6C267.1 77.0 267.7 76.5 268.4 75.9C269.1 75.3 269.7 74.7 270.4 74.2C271.1 73.6 271.7 73.1 272.4 72.5C273.1 72.0 273.7 71.4 274.4 70.9C275.1 70.4 275.7 69.8 276.4 69.3C277.1 68.7 277.7 68.2 278.4 67.7C279.1 67.1 279.7 66.6 280.4 66.0C281.1 65.5 281.7 64.9 282.4 64.4C283.1 63.8 283.7 63.2 284.4 62.6C285.1 62.0 285.7 61.4 286.4 60.8C287.1 60.2 287.7 59.6 288.4 59.0C289.1 58.3 289.7 57.7 290.4 57.0C291.1 56.4 291.7 55.7 292.4 55.1C293.1 54.4 293.7 53.7 294.4 53.1C295.1 52.4 295.7 51.7 296.4 51.0C297.1 50.3 297.7 49.6 298.4 48.9C299.1 48.1 299.7 47.4 300.4 46.7C301.1 46.0 301.7 45.2 302.4 44.6C303.1 43.9 303.7 43.2 304.4 42.6C305.1 41.9 305.7 41.3 306.4 40.7C307.1 40.2 307.7 39.6 308.4 39.1C309.1 38.6 309.7 38.1 310.4 37.7C311.1 37.3 311.7 36.9 312.4 36.5C313.1 36.2 313.7 36.0 314.4 35.7C315.1 35.5 315.7 35.3 316.4 35.2C317.1 35.0 317.7 34.9 318.4 34.9C319.1 34.8 319.7 34.8 320.4 34.8C321.1 34.9 321.7 35.0 322.4 35.1C323.1 35.2 323.7 35.3 324.4 35.5C325.1 35.7 325.7 35.9 326.4 36.1C327.1 36.3 327.7 36.5 328.4 36.8C329.1 37.0 329.7 37.3 330.4 37.5C331.1 37.8 331.7 38.1 332.4 38.3C333.1 38.6 333.7 38.9 334.4 39.2C335.1 39.4 335.7 39.7 336.4 39.9C337.1 40.1 337.7 40.4 338.4 40.6C339.1 40.8 339.7 41.0 340.4 41.2C341.1 41.4 341.7 41.6 342.4 41.8C343.1 42.0 343.7 42.2 344.4 42.4C345.1 42.5 345.7 42.7 346.4 42.9C347.1 43.1 347.7 43.2 348.4 43.4C349.1 43.6 349.7 43.7 350.4 43.9C351.1 44.0 351.7 44.2 352.4 44.3C353.1 44.5 353.7 44.6 354.4 44.8C355.1 44.9 355.7 45.0 356.4 45.2C357.1 45.3 357.7 45.5 358.4 45.7C359.1 45.8 359.7 46.0 360.4 46.2C361.1 46.5 361.7 46.7 362.4 47.0C363.1 47.3 363.7 47.6 364.4 47.9C365.1 48.3 365.7 48.7 366.4 49.1C367.1 49.5 367.7 50.0 368.4 50.4C369.1 50.9 369.7 51.4 370.4 51.8C371.1 52.3 371.7 52.7 372.4 53.2C373.1 53.6 373.7 54.0 374.4 54.4C375.1 54.8 375.7 55.2 376.4 55.6C377.1 55.9 377.7 56.3 378.4 56.6C379.1 57.0 379.7 57.3 380.4 57.7C381.1 58.1 381.7 58.5 382.4 58.9C383.1 59.3 383.7 59.7 384.4 60.2C385.1 60.6 385.7 61.1 386.4 61.5C387.1 62.0 387.7 62.5 388.4 63.0C389.1 63.5 389.7 63.9 390.4 64.4C391.1 64.9 391.7 65.5 392.4 66.0C393.1 66.5 393.7 67.0 394.4 67.5C395.1 68.1 395.7 68.6 396.4 69.1C397.1 69.7 397.7 70.2 398.4 70.8C399.1 71.3 399.7 71.9 400.4 72.5C401.1 73.0 401.7 73.6 402.4 74.3C403.1 74.9 403.7 75.6 404.4 76.3C405.1 76.9 405.9 77.6 406.4 78.3C406.9 79.0 407.4 80.0 407.6 80.3" fill="none" stroke="#66ff00" stroke-width="2.6" stroke-linejoin="round"/>
<path d="M54.4 124.8C54.7 124.7 55.7 124.5 56.4 124.4C57.1 124.2 57.7 124.1 58.4 123.9C59.1 123.8 59.7 123.6 60.4 123.5C61.1 123.4 61.7 123.2 62.4 123.1C63.1 122.9 63.7 122.8 64.4 122.7C65.1 122.6 65.7 122.5 66.4 122.4C67.1 122.4 67.7 122.3 68.4 122.3C69.1 122.2 69.7 122.1 70.4 122.1C71.1 122.0 71.7 122.0 72.4 121.9C73.1 121.9 73.7 121.8 74.4 121.8C75.1 121.8 75.7 121.7 76.4 121.7C77.1 121.7 77.7 121.8 78.4 121.8C79.1 121.8 79.7 121.9 80.4 122.0C81.1 122.0 81.7 122.1 82.4 122.2C83.1 122.3 83.7 122.3 84.4 122.4C85.1 122.5 85.7 122.5 86.4 122.6C87.1 122.7 87.7 122.8 88.4 122.9C89.1 123.0 89.7 123.1 90.4 123.2C91.1 123.3 91.7 123.4 92.4 123.6C93.1 123.7 93.7 123.9 94.4 124.1C95.1 124.2 95.7 124.4 96.4 124.6C97.1 124.7 97.7 124.9 98.4 125.1C99.1 125.4 99.7 125.6 100.4 126.0C101.1 126.3 101.7 126.7 102.4 127.1C103.1 127.5 103.7 128.0 104.4 128.4C105.1 128.9 105.7 129.4 106.4 129.8C107.1 130.3 107.7 130.7 108.4 131.2C109.1 131.7 109.7 132.1 110.4 132.6C111.1 133.1 111.7 133.5 112.4 134.0C113.1 134.4 113.7 134.9 114.4 135.4C115.1 135.9 115.7 136.3 116.4 136.9C117.1 137.4 117.7 138.0 118.4 138.6C119.1 139.2 119.7 139.9 120.4 140.6C121.1 141.3 121.7 142.0 122.4 142.7C123.1 143.4 123.7 144.1 124.4 144.8C125.1 145.5 125.7 146.2 126.4 146.8C127.1 147.5 127.7 148.1 128.4 148.7C129.1 149.3 129.7 149.8 130.4 150.3C131.1 150.7 131.7 151.1 132.4 151.6C133.1 152.0 133.7 152.3 134.4 152.7C135.1 153.1 135.7 153.5 136.4 153.8C137.1 154.1 137.7 154.4 138.4 154.5C139.1 154.6 139.7 154.5 140.4 154.4C141.1 154.3 141.7 154.0 142.4 153.7C143.1 153.4 143.7 153.1 144.4 152.7C145.1 152.4 145.7 152.1 146.4 151.8C147.1 151.4 147.7 151.1 148.4 150.8C149.1 150.4 149.7 150.1 150.4 149.7C151.1 149.3 151.7 148.9 152.4 148.5C153.1 148.0 153.7 147.6 154.4 147.0C155.1 146.5 155.7 146.0 156.4 145.5C157.1 144.9 157.7 144.4 158.4 143.9C159.1 143.3 159.7 142.8 160.4 142.3C161.1 141.7 161.7 141.2 162.4 140.7C163.1 140.1 163.7 139.6 164.4 139.1C165.1 138.5 165.7 138.0 166.4 137.5C167.1 136.9 167.7 136.4 168.4 135.9C169.1 135.4 169.7 134.8 170.4 134.3C171.1 133.8 171.7 133.3 172.4 132.8C173.1 132.4 173.7 131.9 174.4 131.5C175.1 131.0 175.7 130.6 176.4 130.2C177.1 129.8 177.7 129.3 178.4 128.9C179.1 128.4 179.7 128.0 180.4 127.5C181.1 127.0 181.7 126.5 182.4 125.9C183.1 125.4 183.7 124.9 184.4 124.4C185.1 123.8 185.7 123.3 186.4 122.7C187.1 122.2 187.7 121.7 188.4 121.1C189.1 120.6 189.7 120.1 190.4 119.5C191.1 119.0 191.7 118.5 192.4 118.0C193.1 117.5 193.7 117.0 194.4 116.5C195.1 116.0 195.7 115.6 196.4 115.2C197.1 114.8 197.7 114.4 198.4 114.0C199.1 113.7 199.7 113.3 200.4 112.9C201.1 112.6 201.7 112.2 202.4 111.8C203.1 111.5 203.7 111.1 204.4 110.7C205.1 110.4 205.7 110.1 206.4 109.8C207.1 109.5 207.7 109.2 208.4 109.0C209.1 108.7 209.7 108.5 210.4 108.3C211.1 108.0 211.7 107.8 212.4 107.6C213.1 107.4 213.7 107.2 214.4 107.0C215.1 106.8 215.7 106.6 216.4 106.4C217.1 106.2 217.7 106.1 218.4 105.9C219.1 105.8 219.7 105.8 220.4 105.7C221.1 105.6 221.7 105.6 222.4 105.6C223.1 105.5 223.7 105.5 224.4 105.5C225.1 105.4 225.7 105.4 226.4 105.4C227.1 105.4 227.7 105.3 228.4 105.3C229.1 105.3 229.7 105.4 230.4 105.4C231.1 105.5 231.7 105.6 232.4 105.6C233.1 105.7 233.7 105.8 234.4 105.9C235.1 106.0 235.7 106.1 236.4 106.3C237.1 106.4 237.7 106.5 238.4 106.7C239.1 106.9 239.7 107.1 240.4 107.4C241.1 107.7 241.7 108.1 242.4 108.5C243.1 108.9 243.7 109.4 244.4 109.8C245.1 110.3 245.7 110.8 246.4 111.3C247.1 111.8 247.7 112.3 248.4 112.9C249.1 113.5 249.7 114.1 250.4 114.8C251.1 115.5 251.7 116.1 252.4 116.9C253.1 117.6 253.7 118.3 254.4 119.1C255.1 119.9 255.7 120.8 256.4 121.7C257.1 122.6 257.7 123.6 258.4 124.6C259.1 125.5 259.7 126.5 260.4 127.5C261.1 128.4 261.7 129.4 262.4 130.3C263.1 131.2 263.7 132.2 264.4 133.0C265.1 133.8 265.7 134.5 266.4 135.1C267.1 135.6 267.7 136.0 268.4 136.4C269.1 136.7 269.7 136.9 270.4 137.0C271.1 137.1 271.7 137.2 272.4 137.1C273.1 137.1 273.7 136.9 274.4 136.7C275.1 136.5 275.7 136.2 276.4 136.0C277.1 135.8 277.7 135.5 278.4 135.4C279.1 135.3 279.7 135.1 280.4 135.2C281.1 135.3 281.7 135.4 282.4 135.8C283.1 136.1 283.7 136.7 284.4 137.3C285.1 137.9 285.7 138.7 286.4 139.4C287.1 140.1 287.7 140.9 288.4 141.7C289.1 142.4 289.7 143.2 290.4 143.9C291.1 144.6 291.7 145.2 292.4 145.8C293.1 146.4 293.7 146.9 294.4 147.3C295.1 147.8 295.7 148.2 296.4 148.4C297.1 148.7 297.7 148.9 298.4 149.0C299.1 149.2 299.7 149.3 300.4 149.5C301.1 149.7 301.7 150.0 302.4 150.4C303.1 150.8 303.7 151.3 304.4 151.8C305.1 152.4 305.7 153.0 306.4 153.7C307.1 154.3 307.7 155.0 308.4 155.6C309.1 156.2 309.7 156.8 310.4 157.3C311.1 157.8 311.7 158.3 312.4 158.6C313.1 159.0 313.7 159.2 314.4 159.4C315.1 159.7 315.7 159.9 316.4 160.2C317.1 160.6 317.7 161.0 318.4 161.5C319.1 162.0 319.7 162.6 320.4 163.2C321.1 163.8 321.7 164.6 322.4 165.2C323.1 165.9 323.7 166.7 324.4 167.3C325.1 168.0 325.7 168.6 326.4 169.2C327.1 169.8 327.7 170.3 328.4 170.8C329.1 171.2 329.7 171.7 330.4 172.1C331.1 172.6 331.7 173.1 332.4 173.6C333.1 174.1 333.7 174.6 334.4 175.2C335.1 175.8 335.7 176.5 336.4 177.1C337.1 177.8 337.7 178.4 338.4 179.1C339.1 179.8 339.7 180.4 340.4 181.1C341.1 181.8 341.7 182.4 342.4 183.1C343.1 183.8 343.7 184.4 344.4 185.1C345.1 185.8 345.7 186.5 346.4 187.2C347.1 187.9 347.7 188.6 348.4 189.4C349.1 190.1 349.7 190.9 350.4 191.6C351.1 192.4 351.7 193.2 352.4 193.9C353.1 194.7 353.7 195.4 354.4 196.2C355.1 197.0 355.7 197.8 356.4 198.6C357.1 199.4 357.7 200.2 358.4 201.0C359.1 201.9 359.7 202.7 360.4 203.5C361.1 204.4 361.7 205.2 362.4 206.1C363.1 206.9 363.7 207.7 364.4 208.6C365.1 209.4 365.7 210.3 366.4 211.2C367.1 212.1 367.7 213.0 368.4 213.9C369.1 214.8 369.7 215.8 370.4 216.8C371.1 217.8 371.7 218.8 372.4 219.8C373.1 220.8 373.7 221.8 374.4 222.8C375.1 223.8 375.7 224.8 376.4 225.8C377.1 226.8 377.7 227.8 378.4 228.9C379.1 230.0 379.7 231.0 380.4 232.1C381.1 233.2 381.7 234.4 382.4 235.5C383.1 236.7 383.7 237.8 384.4 239.0C385.1 240.2 385.7 241.3 386.4 242.5C387.1 243.7 387.7 244.8 388.4 246.0C389.1 247.2 389.7 248.4 390.4 249.6C391.1 250.8 391.7 252.1 392.4 253.4C393.1 254.7 393.7 256.0 394.4 257.4C395.1 258.7 395.7 260.0 396.4 261.4C397.1 262.7 397.7 264.1 398.4 265.4C399.1 266.7 399.7 268.2 400.4 269.4C401.1 270.6 402.0 271.8 402.4 272.7C402.8 273.6 402.9 274.5 403.0 274.8" fill="none" stroke="#3b7dff" stroke-width="1.85" stroke-dasharray="3.5 2.2" stroke-linejoin="round"/>
<path d="M54.4 267.2C54.7 266.9 55.7 266.1 56.4 265.6C57.1 265.1 57.7 264.5 58.4 264.0C59.1 263.4 59.7 262.9 60.4 262.4C61.1 261.8 61.7 261.3 62.4 260.8C63.1 260.2 63.7 259.7 64.4 259.1C65.1 258.6 65.7 258.1 66.4 257.5C67.1 257.0 67.7 256.5 68.4 255.9C69.1 255.4 69.7 254.9 70.4 254.3C71.1 253.8 71.7 253.3 72.4 252.7C73.1 252.2 73.7 251.7 74.4 251.2C75.1 250.7 75.7 250.2 76.4 249.7C77.1 249.2 77.7 248.7 78.4 248.2C79.1 247.7 79.7 247.2 80.4 246.7C81.1 246.2 81.7 245.8 82.4 245.3C83.1 244.8 83.7 244.3 84.4 243.8C85.1 243.3 85.7 242.8 86.4 242.4C87.1 241.9 87.7 241.4 88.4 240.9C89.1 240.4 89.7 239.9 90.4 239.4C91.1 239.0 91.7 238.5 92.4 238.0C93.1 237.5 93.7 237.0 94.4 236.5C95.1 236.0 95.7 235.5 96.4 235.1C97.1 234.6 97.7 234.1 98.4 233.6C99.1 233.1 99.7 232.6 100.4 232.1C101.1 231.7 101.7 231.2 102.4 230.7C103.1 230.2 103.7 229.7 104.4 229.2C105.1 228.7 105.7 228.2 106.4 227.8C107.1 227.3 107.7 226.8 108.4 226.3C109.1 225.8 109.7 225.3 110.4 224.8C111.1 224.3 111.7 223.8 112.4 223.3C113.1 222.7 113.7 222.2 114.4 221.7C115.1 221.2 115.7 220.6 116.4 220.1C117.1 219.6 117.7 219.1 118.4 218.5C119.1 218.0 119.7 217.5 120.4 217.0C121.1 216.5 121.7 215.9 122.4 215.4C123.1 214.9 123.7 214.4 124.4 213.9C125.1 213.4 125.7 212.9 126.4 212.4C127.1 211.9 127.7 211.4 128.4 210.9C129.1 210.4 129.7 209.9 130.4 209.4C131.1 208.9 131.7 208.4 132.4 207.9C133.1 207.4 133.7 206.9 134.4 206.4C135.1 205.9 135.7 205.4 136.4 204.9C137.1 204.4 137.7 203.9 138.4 203.4C139.1 202.9 139.7 202.4 140.4 201.9C141.1 201.4 141.7 200.9 142.4 200.4C143.1 199.9 143.7 199.4 144.4 198.9C145.1 198.4 145.7 197.9 146.4 197.4C147.1 196.9 147.7 196.4 148.4 195.9C149.1 195.4 149.7 194.9 150.4 194.4C151.1 193.9 151.7 193.4 152.4 192.9C153.1 192.4 153.7 191.9 154.4 191.4C155.1 190.9 155.7 190.4 156.4 189.9C157.1 189.4 157.7 188.9 158.4 188.4C159.1 187.9 159.7 187.4 160.4 186.9C161.1 186.4 161.7 185.9 162.4 185.4C163.1 184.9 163.7 184.4 164.4 183.9C165.1 183.4 165.7 182.9 166.4 182.4C167.1 181.8 167.7 181.3 168.4 180.8C169.1 180.2 169.7 179.6 170.4 179.0C171.1 178.5 171.7 177.9 172.4 177.3C173.1 176.7 173.7 176.1 174.4 175.4C175.1 174.8 175.7 174.2 176.4 173.6C177.1 173.0 177.7 172.4 178.4 171.8C179.1 171.2 179.7 170.6 180.4 170.0C181.1 169.5 181.7 168.9 182.4 168.3C183.1 167.8 183.7 167.2 184.4 166.7C185.1 166.1 185.7 165.6 186.4 165.0C187.1 164.5 187.7 164.0 188.4 163.4C189.1 162.9 189.7 162.4 190.4 161.8C191.1 161.3 191.7 160.8 192.4 160.2C193.1 159.7 193.7 159.2 194.4 158.6C195.1 158.1 195.7 157.6 196.4 157.0C197.1 156.5 197.7 156.0 198.4 155.4C199.1 154.9 199.7 154.4 200.4 153.8C201.1 153.3 201.7 152.8 202.4 152.3C203.1 151.7 203.7 151.2 204.4 150.7C205.1 150.1 205.7 149.6 206.4 149.1C207.1 148.5 207.7 148.0 208.4 147.5C209.1 146.9 209.7 146.4 210.4 145.9C211.1 145.3 211.7 144.8 212.4 144.3C213.1 143.8 213.7 143.2 214.4 142.7C215.1 142.2 215.7 141.6 216.4 141.1C217.1 140.6 217.7 140.0 218.4 139.5C219.1 139.0 219.7 138.4 220.4 137.9C221.1 137.4 221.7 136.8 222.4 136.3C223.1 135.7 223.7 135.2 224.4 134.7C225.1 134.1 225.7 133.6 226.4 133.1C227.1 132.5 227.7 132.0 228.4 131.5C229.1 130.9 229.7 130.4 230.4 129.9C231.1 129.3 231.7 128.8 232.4 128.2C233.1 127.7 233.7 127.2 234.4 126.6C235.1 126.1 235.7 125.5 236.4 124.9C237.1 124.4 237.7 123.8 238.4 123.1C239.1 122.5 239.7 121.9 240.4 121.2C241.1 120.6 241.7 119.9 242.4 119.2C243.1 118.5 243.7 117.8 244.4 117.1C245.1 116.4 245.7 115.7 246.4 115.0C247.1 114.3 247.7 113.6 248.4 112.9C249.1 112.2 249.7 111.5 250.4 110.9C251.1 110.2 251.7 109.6 252.4 109.0C253.1 108.4 253.7 107.7 254.4 107.1C255.1 106.5 255.7 105.9 256.4 105.3C257.1 104.7 257.7 104.1 258.4 103.5C259.1 102.9 259.7 102.3 260.4 101.7C261.1 101.1 261.7 100.5 262.4 99.9C263.1 99.3 263.7 98.7 264.4 98.1C265.1 97.5 265.7 96.9 266.4 96.4C267.1 95.8 267.7 95.2 268.4 94.6C269.1 94.0 269.7 93.5 270.4 92.9C271.1 92.3 271.7 91.8 272.4 91.2C273.1 90.7 273.7 90.1 274.4 89.6C275.1 89.1 275.7 88.6 276.4 88.0C277.1 87.5 277.7 87.0 278.4 86.5C279.1 86.0 279.7 85.5 280.4 85.0C281.1 84.5 281.7 84.0 282.4 83.5C283.1 83.1 283.7 82.6 284.4 82.1C285.1 81.7 285.7 81.2 286.4 80.8C287.1 80.3 287.7 79.9 288.4 79.5C289.1 79.1 289.7 78.7 290.4 78.3C291.1 77.9 291.7 77.6 292.4 77.2C293.1 76.9 293.7 76.5 294.4 76.1C295.1 75.8 295.7 75.4 296.4 75.0C297.1 74.6 297.7 74.2 298.4 73.8C299.1 73.4 299.7 73.0 300.4 72.6C301.1 72.2 301.7 71.7 302.4 71.3C303.1 70.9 303.7 70.4 304.4 70.0C305.1 69.6 305.7 69.2 306.4 68.7C307.1 68.3 307.7 67.9 308.4 67.5C309.1 67.1 309.7 66.8 310.4 66.4C311.1 66.1 311.7 65.7 312.4 65.4C313.1 65.1 313.7 64.9 314.4 64.6C315.1 64.4 315.7 64.1 316.4 63.9C317.1 63.7 317.7 63.5 318.4 63.3C319.1 63.1 319.7 63.0 320.4 62.8C321.1 62.6 321.7 62.5 322.4 62.4C323.1 62.2 323.7 62.1 324.4 62.0C325.1 61.8 325.7 61.7 326.4 61.6C327.1 61.5 327.7 61.3 328.4 61.2C329.1 61.1 329.7 60.9 330.4 60.8C331.1 60.7 331.7 60.6 332.4 60.5C333.1 60.3 333.7 60.2 334.4 60.1C335.1 60.0 335.7 60.0 336.4 59.9C337.1 59.8 337.7 59.7 338.4 59.7C339.1 59.6 339.7 59.6 340.4 59.6C341.1 59.5 341.7 59.5 342.4 59.5C343.1 59.5 343.7 59.5 344.4 59.5C345.1 59.5 345.7 59.5 346.4 59.6C347.1 59.6 347.7 59.7 348.4 59.8C349.1 59.9 349.7 60.0 350.4 60.1C351.1 60.2 351.7 60.4 352.4 60.6C353.1 60.7 353.7 60.9 354.4 61.2C355.1 61.4 355.7 61.7 356.4 61.9C357.1 62.2 357.7 62.5 358.4 62.8C359.1 63.1 359.7 63.5 360.4 63.8C361.1 64.1 361.7 64.5 362.4 64.9C363.1 65.2 363.7 65.6 364.4 66.0C365.1 66.4 365.7 66.9 366.4 67.3C367.1 67.7 367.7 68.2 368.4 68.7C369.1 69.2 369.7 69.7 370.4 70.3C371.1 70.8 371.7 71.3 372.4 71.9C373.1 72.4 373.7 73.0 374.4 73.6C375.1 74.2 375.7 74.8 376.4 75.3C377.1 75.9 377.7 76.5 378.4 77.1C379.1 77.7 379.7 78.3 380.4 79.0C381.1 79.6 381.7 80.2 382.4 80.8C383.1 81.5 383.7 82.1 384.4 82.8C385.1 83.4 385.7 84.1 386.4 84.7C387.1 85.4 387.7 86.0 388.4 86.7C389.1 87.4 389.7 88.0 390.4 88.7C391.1 89.4 391.7 90.0 392.4 90.7C393.1 91.5 393.7 92.2 394.4 92.9C395.1 93.7 395.7 94.5 396.4 95.3C397.1 96.2 397.7 97.0 398.4 98.0C399.1 98.9 399.7 99.9 400.4 100.8C401.1 101.8 401.7 102.8 402.4 103.8C403.1 104.8 403.7 105.7 404.4 106.7C405.1 107.6 405.9 108.5 406.4 109.3C406.9 110.1 407.4 111.2 407.6 111.6" fill="none" stroke="#9933ff" stroke-width="1.6" stroke-dasharray="3.5 2.2" stroke-linejoin="round"/>
<path d="M54.4 221.6C54.7 221.5 55.7 221.1 56.4 220.9C57.1 220.7 57.7 220.5 58.4 220.2C59.1 220.0 59.7 219.8 60.4 219.5C61.1 219.3 61.7 219.1 62.4 218.9C63.1 218.6 63.7 218.4 64.4 218.2C65.1 218.0 65.7 217.7 66.4 217.5C67.1 217.3 67.7 217.0 68.4 216.8C69.1 216.6 69.7 216.4 70.4 216.1C71.1 215.9 71.7 215.7 72.4 215.4C73.1 215.2 73.7 215.0 74.4 214.8C75.1 214.5 75.7 214.3 76.4 214.1C77.1 213.8 77.7 213.6 78.4 213.4C79.1 213.2 79.7 212.9 80.4 212.7C81.1 212.5 81.7 212.3 82.4 212.0C83.1 211.8 83.7 211.6 84.4 211.3C85.1 211.1 85.7 210.9 86.4 210.7C87.1 210.4 87.7 210.2 88.4 210.0C89.1 209.7 89.7 209.5 90.4 209.3C91.1 209.1 91.7 208.8 92.4 208.6C93.1 208.4 93.7 208.1 94.4 207.9C95.1 207.7 95.7 207.5 96.4 207.2C97.1 207.0 97.7 206.8 98.4 206.5C99.1 206.3 99.7 206.1 100.4 205.9C101.1 205.6 101.7 205.4 102.4 205.2C103.1 205.0 103.7 204.7 104.4 204.5C105.1 204.3 105.7 204.0 106.4 203.8C107.1 203.6 107.7 203.3 108.4 203.1C109.1 202.9 109.7 202.6 110.4 202.4C111.1 202.2 111.7 201.9 112.4 201.7C113.1 201.5 113.7 201.2 114.4 201.0C115.1 200.7 115.7 200.5 116.4 200.2C117.1 200.0 117.7 199.8 118.4 199.5C119.1 199.3 119.7 199.0 120.4 198.8C121.1 198.5 121.7 198.3 122.4 198.1C123.1 197.8 123.7 197.6 124.4 197.4C125.1 197.1 125.7 196.9 126.4 196.6C127.1 196.4 127.7 196.2 128.4 195.9C129.1 195.7 129.7 195.5 130.4 195.2C131.1 195.0 131.7 194.8 132.4 194.5C133.1 194.3 133.7 194.1 134.4 193.8C135.1 193.6 135.7 193.4 136.4 193.1C137.1 192.9 137.7 192.6 138.4 192.4C139.1 192.2 139.7 191.9 140.4 191.7C141.1 191.4 141.7 191.2 142.4 190.9C143.1 190.7 143.7 190.4 144.4 190.1C145.1 189.9 145.7 189.6 146.4 189.3C147.1 189.0 147.7 188.8 148.4 188.5C149.1 188.2 149.7 187.9 150.4 187.6C151.1 187.3 151.7 187.0 152.4 186.7C153.1 186.4 153.7 186.1 154.4 185.8C155.1 185.5 155.7 185.2 156.4 184.9C157.1 184.6 157.7 184.3 158.4 184.0C159.1 183.7 159.7 183.4 160.4 183.1C161.1 182.8 161.7 182.5 162.4 182.2C163.1 181.9 163.7 181.6 164.4 181.3C165.1 181.0 165.7 180.7 166.4 180.4C167.1 180.1 167.7 179.8 168.4 179.5C169.1 179.2 169.7 178.9 170.4 178.6C171.1 178.3 171.7 178.0 172.4 177.7C173.1 177.3 173.7 177.0 174.4 176.7C175.1 176.4 175.7 176.1 176.4 175.8C177.1 175.5 177.7 175.2 178.4 174.9C179.1 174.6 179.7 174.3 180.4 174.0C181.1 173.8 181.7 173.5 182.4 173.2C183.1 172.9 183.7 172.6 184.4 172.4C185.1 172.1 185.7 171.8 186.4 171.6C187.1 171.3 187.7 171.0 188.4 170.8C189.1 170.5 189.7 170.2 190.4 170.0C191.1 169.7 191.7 169.5 192.4 169.2C193.1 168.9 193.7 168.7 194.4 168.4C195.1 168.1 195.7 167.9 196.4 167.6C197.1 167.3 197.7 167.1 198.4 166.8C199.1 166.5 199.7 166.3 200.4 166.0C201.1 165.7 201.7 165.5 202.4 165.2C203.1 164.9 203.7 164.7 204.4 164.4C205.1 164.1 205.7 163.9 206.4 163.6C207.1 163.3 207.7 163.1 208.4 162.8C209.1 162.5 209.7 162.3 210.4 162.0C211.1 161.7 211.7 161.5 212.4 161.2C213.1 160.9 213.7 160.7 214.4 160.4C215.1 160.1 215.7 159.9 216.4 159.6C217.1 159.3 217.7 159.1 218.4 158.8C219.1 158.5 219.7 158.3 220.4 158.0C221.1 157.7 221.7 157.5 222.4 157.2C223.1 156.9 223.7 156.7 224.4 156.4C225.1 156.1 225.7 155.8 226.4 155.6C227.1 155.3 227.7 155.0 228.4 154.8C229.1 154.5 229.7 154.2 230.4 154.0C231.1 153.7 231.7 153.4 232.4 153.2C233.1 152.9 233.7 152.6 234.4 152.4C235.1 152.1 235.7 151.8 236.4 151.6C237.1 151.3 237.7 151.0 238.4 150.8C239.1 150.5 239.7 150.2 240.4 150.0C241.1 149.7 241.7 149.5 242.4 149.2C243.1 149.0 243.7 148.7 244.4 148.4C245.1 148.2 245.7 147.9 246.4 147.7C247.1 147.4 247.7 147.2 248.4 146.9C249.1 146.7 249.7 146.4 250.4 146.2C251.1 145.9 251.7 145.6 252.4 145.4C253.1 145.1 253.7 144.9 254.4 144.6C255.1 144.3 255.7 144.1 256.4 143.8C257.1 143.6 257.7 143.3 258.4 143.0C259.1 142.8 259.7 142.5 260.4 142.3C261.1 142.0 261.7 141.7 262.4 141.4C263.1 141.2 263.7 140.9 264.4 140.6C265.1 140.4 265.7 140.1 266.4 139.8C267.1 139.5 267.7 139.2 268.4 139.0C269.1 138.7 269.7 138.4 270.4 138.1C271.1 137.8 271.7 137.5 272.4 137.2C273.1 136.9 273.7 136.6 274.4 136.3C275.1 136.0 275.7 135.7 276.4 135.4C277.1 135.1 277.7 134.8 278.4 134.5C279.1 134.2 279.7 133.9 280.4 133.6C281.1 133.3 281.7 133.0 282.4 132.7C283.1 132.4 283.7 132.1 284.4 131.7C285.1 131.4 285.7 131.1 286.4 130.8C287.1 130.4 287.7 130.1 288.4 129.7C289.1 129.4 289.7 129.0 290.4 128.6C291.1 128.3 291.7 127.9 292.4 127.5C293.1 127.1 293.7 126.7 294.4 126.3C295.1 125.9 295.7 125.5 296.4 125.1C297.1 124.7 297.7 124.3 298.4 123.9C299.1 123.5 299.7 123.1 300.4 122.7C301.1 122.3 301.7 121.9 302.4 121.5C303.1 121.1 303.7 120.7 304.4 120.4C305.1 120.0 305.7 119.6 306.4 119.2C307.1 118.8 307.7 118.4 308.4 118.0C309.1 117.6 309.7 117.2 310.4 116.8C311.1 116.4 311.7 116.0 312.4 115.6C313.1 115.2 313.7 114.8 314.4 114.4C315.1 114.0 315.7 113.6 316.4 113.2C317.1 112.8 317.7 112.4 318.4 111.9C319.1 111.5 319.7 111.1 320.4 110.7C321.1 110.3 321.7 109.8 322.4 109.4C323.1 108.9 323.7 108.5 324.4 108.0C325.1 107.6 325.7 107.1 326.4 106.7C327.1 106.2 327.7 105.7 328.4 105.2C329.1 104.7 329.7 104.2 330.4 103.7C331.1 103.2 331.7 102.7 332.4 102.2C333.1 101.7 333.7 101.1 334.4 100.5C335.1 100.0 335.7 99.4 336.4 98.8C337.1 98.3 337.7 97.7 338.4 97.1C339.1 96.5 339.7 95.9 340.4 95.3C341.1 94.7 341.7 94.1 342.4 93.5C343.1 92.9 343.7 92.2 344.4 91.6C345.1 90.9 345.7 90.3 346.4 89.5C347.1 88.8 347.7 88.1 348.4 87.3C349.1 86.5 349.7 85.7 350.4 84.9C351.1 84.0 351.7 83.1 352.4 82.2C353.1 81.3 353.7 80.4 354.4 79.4C355.1 78.4 355.7 77.4 356.4 76.4C357.1 75.4 357.7 74.3 358.4 73.3C359.1 72.2 359.7 71.1 360.4 70.0C361.1 69.0 361.7 67.9 362.4 66.8C363.1 65.7 363.7 64.6 364.4 63.5C365.1 62.3 365.7 61.2 366.4 60.1C367.1 58.9 367.7 57.7 368.4 56.6C369.1 55.4 369.7 54.2 370.4 53.0C371.1 51.7 371.7 50.5 372.4 49.3C373.1 48.0 373.7 46.7 374.4 45.4C375.1 44.1 375.7 42.8 376.4 41.4C377.1 40.0 377.7 38.6 378.4 37.1C379.1 35.7 379.7 34.1 380.4 32.6C381.1 31.1 381.7 29.5 382.4 27.9C383.1 26.3 383.7 24.7 384.4 23.1C385.1 21.6 385.7 20.1 386.4 18.7C387.1 17.3 388.0 15.9 388.4 14.7C388.8 13.5 388.9 12.0 389.0 11.5" fill="none" stroke="#000000" stroke-width="1.7" stroke-dasharray="3.5 2.2" stroke-linejoin="round"/>
<path d="M54.4 246.0C54.7 245.9 55.7 245.6 56.4 245.3C57.1 245.1 57.7 244.9 58.4 244.7C59.1 244.4 59.7 244.2 60.4 244.0C61.1 243.8 61.7 243.5 62.4 243.3C63.1 243.1 63.7 242.9 64.4 242.6C65.1 242.4 65.7 242.2 66.4 242.0C67.1 241.8 67.7 241.5 68.4 241.3C69.1 241.1 69.7 240.9 70.4 240.6C71.1 240.4 71.7 240.2 72.4 240.0C73.1 239.7 73.7 239.5 74.4 239.3C75.1 239.1 75.7 238.9 76.4 238.6C77.1 238.4 77.7 238.2 78.4 238.0C79.1 237.7 79.7 237.5 80.4 237.3C81.1 237.1 81.7 236.8 82.4 236.6C83.1 236.4 83.7 236.2 84.4 235.9C85.1 235.7 85.7 235.5 86.4 235.3C87.1 235.1 87.7 234.8 88.4 234.6C89.1 234.4 89.7 234.2 90.4 233.9C91.1 233.7 91.7 233.5 92.4 233.3C93.1 233.0 93.7 232.8 94.4 232.6C95.1 232.4 95.7 232.2 96.4 231.9C97.1 231.7 97.7 231.5 98.4 231.3C99.1 231.0 99.7 230.8 100.4 230.6C101.1 230.4 101.7 230.1 102.4 229.9C103.1 229.7 103.7 229.5 104.4 229.2C105.1 229.0 105.7 228.8 106.4 228.6C107.1 228.3 107.7 228.1 108.4 227.9C109.1 227.6 109.7 227.4 110.4 227.1C111.1 226.9 111.7 226.7 112.4 226.4C113.1 226.1 113.7 225.9 114.4 225.6C115.1 225.4 115.7 225.1 116.4 224.8C117.1 224.5 117.7 224.3 118.4 224.0C119.1 223.7 119.7 223.5 120.4 223.2C121.1 222.9 121.7 222.7 122.4 222.4C123.1 222.2 123.7 221.9 124.4 221.6C125.1 221.4 125.7 221.1 126.4 220.9C127.1 220.6 127.7 220.4 128.4 220.1C129.1 219.8 129.7 219.6 130.4 219.3C131.1 219.1 131.7 218.8 132.4 218.6C133.1 218.3 133.7 218.1 134.4 217.8C135.1 217.6 135.7 217.3 136.4 217.0C137.1 216.8 137.7 216.5 138.4 216.3C139.1 216.0 139.7 215.8 140.4 215.5C141.1 215.3 141.7 215.0 142.4 214.8C143.1 214.5 143.7 214.2 144.4 214.0C145.1 213.7 145.7 213.5 146.4 213.2C147.1 212.9 147.7 212.7 148.4 212.4C149.1 212.1 149.7 211.9 150.4 211.6C151.1 211.4 151.7 211.1 152.4 210.8C153.1 210.6 153.7 210.3 154.4 210.0C155.1 209.8 155.7 209.5 156.4 209.2C157.1 209.0 157.7 208.7 158.4 208.5C159.1 208.2 159.7 207.9 160.4 207.7C161.1 207.4 161.7 207.1 162.4 206.9C163.1 206.6 163.7 206.3 164.4 206.1C165.1 205.8 165.7 205.6 166.4 205.3C167.1 205.0 167.7 204.8 168.4 204.5C169.1 204.2 169.7 204.0 170.4 203.7C171.1 203.4 171.7 203.2 172.4 202.9C173.1 202.6 173.7 202.4 174.4 202.1C175.1 201.8 175.7 201.6 176.4 201.3C177.1 201.0 177.7 200.8 178.4 200.5C179.1 200.2 179.7 199.9 180.4 199.7C181.1 199.4 181.7 199.1 182.4 198.9C183.1 198.6 183.7 198.3 184.4 198.1C185.1 197.8 185.7 197.5 186.4 197.3C187.1 197.0 187.7 196.7 188.4 196.5C189.1 196.2 189.7 195.9 190.4 195.7C191.1 195.4 191.7 195.1 192.4 194.8C193.1 194.6 193.7 194.3 194.4 194.0C195.1 193.7 195.7 193.5 196.4 193.2C197.1 192.9 197.7 192.6 198.4 192.3C199.1 192.1 199.7 191.8 200.4 191.5C201.1 191.2 201.7 190.9 202.4 190.6C203.1 190.4 203.7 190.1 204.4 189.8C205.1 189.5 205.7 189.2 206.4 189.0C207.1 188.7 207.7 188.4 208.4 188.1C209.1 187.8 209.7 187.5 210.4 187.3C211.1 187.0 211.7 186.7 212.4 186.4C213.1 186.1 213.7 185.8 214.4 185.6C215.1 185.3 215.7 185.0 216.4 184.7C217.1 184.4 217.7 184.1 218.4 183.8C219.1 183.5 219.7 183.2 220.4 182.9C221.1 182.6 221.7 182.3 222.4 182.0C223.1 181.6 223.7 181.3 224.4 181.0C225.1 180.7 225.7 180.4 226.4 180.1C227.1 179.8 227.7 179.5 228.4 179.2C229.1 178.9 229.7 178.6 230.4 178.3C231.1 178.0 231.7 177.8 232.4 177.5C233.1 177.2 233.7 176.9 234.4 176.7C235.1 176.4 235.7 176.1 236.4 175.8C237.1 175.5 237.7 175.3 238.4 175.0C239.1 174.7 239.7 174.4 240.4 174.2C241.1 173.9 241.7 173.6 242.4 173.3C243.1 173.0 243.7 172.7 244.4 172.5C245.1 172.2 245.7 171.9 246.4 171.6C247.1 171.3 247.7 171.0 248.4 170.7C249.1 170.4 249.7 170.1 250.4 169.8C251.1 169.5 251.7 169.3 252.4 169.0C253.1 168.7 253.7 168.4 254.4 168.1C255.1 167.8 255.7 167.5 256.4 167.3C257.1 167.0 257.7 166.7 258.4 166.4C259.1 166.2 259.7 165.9 260.4 165.6C261.1 165.3 261.7 165.1 262.4 164.8C263.1 164.5 263.7 164.2 264.4 164.0C265.1 163.7 265.7 163.4 266.4 163.1C267.1 162.9 267.7 162.6 268.4 162.3C269.1 162.0 269.7 161.7 270.4 161.4C271.1 161.2 271.7 160.9 272.4 160.6C273.1 160.3 273.7 160.0 274.4 159.7C275.1 159.5 275.7 159.2 276.4 158.9C277.1 158.7 277.7 158.4 278.4 158.1C279.1 157.9 279.7 157.6 280.4 157.3C281.1 157.1 281.7 156.8 282.4 156.6C283.1 156.3 283.7 156.1 284.4 155.8C285.1 155.6 285.7 155.3 286.4 155.1C287.1 154.8 287.7 154.6 288.4 154.3C289.1 154.1 289.7 153.8 290.4 153.5C291.1 153.3 291.7 153.0 292.4 152.8C293.1 152.5 293.7 152.2 294.4 152.0C295.1 151.7 295.7 151.4 296.4 151.1C297.1 150.9 297.7 150.6 298.4 150.3C299.1 150.0 299.7 149.7 300.4 149.4C301.1 149.1 301.7 148.8 302.4 148.4C303.1 148.1 303.7 147.8 304.4 147.5C305.1 147.2 305.7 146.8 306.4 146.5C307.1 146.2 307.7 145.8 308.4 145.5C309.1 145.2 309.7 144.8 310.4 144.5C311.1 144.2 311.7 143.8 312.4 143.5C313.1 143.2 313.7 142.8 314.4 142.5C315.1 142.2 315.7 141.9 316.4 141.5C317.1 141.2 317.7 140.9 318.4 140.5C319.1 140.2 319.7 139.9 320.4 139.5C321.1 139.2 321.7 138.9 322.4 138.5C323.1 138.2 323.7 137.9 324.4 137.5C325.1 137.2 325.7 136.9 326.4 136.5C327.1 136.2 327.7 135.9 328.4 135.5C329.1 135.2 329.7 134.9 330.4 134.6C331.1 134.2 331.7 133.9 332.4 133.6C333.1 133.3 333.7 133.0 334.4 132.6C335.1 132.3 335.7 132.0 336.4 131.7C337.1 131.3 337.7 131.0 338.4 130.6C339.1 130.3 339.7 129.9 340.4 129.5C341.1 129.2 341.7 128.7 342.4 128.3C343.1 127.9 343.7 127.5 344.4 127.0C345.1 126.6 345.7 126.1 346.4 125.6C347.1 125.1 347.7 124.6 348.4 124.1C349.1 123.6 349.7 123.1 350.4 122.6C351.1 122.1 351.7 121.6 352.4 121.0C353.1 120.5 353.7 119.9 354.4 119.4C355.1 118.8 355.7 118.2 356.4 117.6C357.1 117.0 357.7 116.4 358.4 115.8C359.1 115.2 359.7 114.5 360.4 113.9C361.1 113.2 361.7 112.6 362.4 111.9C363.1 111.2 363.7 110.6 364.4 109.9C365.1 109.2 365.7 108.5 366.4 107.8C367.1 107.0 367.7 106.3 368.4 105.6C369.1 104.9 369.7 104.1 370.4 103.4C371.1 102.7 371.7 101.9 372.4 101.2C373.1 100.4 373.7 99.6 374.4 98.9C375.1 98.1 375.7 97.3 376.4 96.5C377.1 95.6 377.7 94.8 378.4 93.9C379.1 93.1 379.7 92.2 380.4 91.2C381.1 90.3 381.7 89.3 382.4 88.3C383.1 87.4 383.7 86.3 384.4 85.3C385.1 84.3 385.7 83.2 386.4 82.1C387.1 81.0 387.7 79.9 388.4 78.8C389.1 77.7 389.7 76.5 390.4 75.3C391.1 74.2 391.7 73.0 392.4 71.7C393.1 70.5 393.7 69.2 394.4 67.9C395.1 66.6 395.7 65.3 396.4 63.9C397.1 62.5 397.7 61.1 398.4 59.6C399.1 58.2 399.7 56.7 400.4 55.2C401.1 53.7 401.7 52.1 402.4 50.6C403.1 49.1 403.7 47.5 404.4 46.0C405.1 44.6 405.9 43.1 406.4 41.7C406.9 40.4 407.4 38.5 407.6 37.8" fill="none" stroke="#ff6a1a" stroke-width="1.6" stroke-dasharray="3.5 2.2" stroke-linejoin="round"/>
</g>
</g>
<rect x="54.9" y="11.95" width="352.6" height="263.45" fill="none" stroke="#000" stroke-width="1.3"/>
<g stroke="#000" stroke-width="0.8" fill="none">
<path d="M54.9 11.9h3.5M407.5 11.9h-3.5"/>
<path class="mn" d="M54.9 42.6h1.9M407.5 42.6h-1.9"/>
<path class="mn" d="M54.9 34.9h1.9M407.5 34.9h-1.9"/>
<path class="mn" d="M54.9 29.4h1.9M407.5 29.4h-1.9"/>
<path class="mn" d="M54.9 25.2h1.9M407.5 25.2h-1.9"/>
<path class="mn" d="M54.9 21.7h1.9M407.5 21.7h-1.9"/>
<path class="mn" d="M54.9 18.8h1.9M407.5 18.8h-1.9"/>
<path class="mn" d="M54.9 16.2h1.9M407.5 16.2h-1.9"/>
<path class="mn" d="M54.9 14.0h1.9M407.5 14.0h-1.9"/>
<path d="M54.9 55.9h3.5M407.5 55.9h-3.5"/>
<path class="mn" d="M54.9 86.5h1.9M407.5 86.5h-1.9"/>
<path class="mn" d="M54.9 78.8h1.9M407.5 78.8h-1.9"/>
<path class="mn" d="M54.9 73.3h1.9M407.5 73.3h-1.9"/>
<path class="mn" d="M54.9 69.1h1.9M407.5 69.1h-1.9"/>
<path class="mn" d="M54.9 65.6h1.9M407.5 65.6h-1.9"/>
<path class="mn" d="M54.9 62.7h1.9M407.5 62.7h-1.9"/>
<path class="mn" d="M54.9 60.1h1.9M407.5 60.1h-1.9"/>
<path class="mn" d="M54.9 57.9h1.9M407.5 57.9h-1.9"/>
<path d="M54.9 99.8h3.5M407.5 99.8h-3.5"/>
<path class="mn" d="M54.9 130.5h1.9M407.5 130.5h-1.9"/>
<path class="mn" d="M54.9 122.7h1.9M407.5 122.7h-1.9"/>
<path class="mn" d="M54.9 117.2h1.9M407.5 117.2h-1.9"/>
<path class="mn" d="M54.9 113.0h1.9M407.5 113.0h-1.9"/>
<path class="mn" d="M54.9 109.5h1.9M407.5 109.5h-1.9"/>
<path class="mn" d="M54.9 106.6h1.9M407.5 106.6h-1.9"/>
<path class="mn" d="M54.9 104.0h1.9M407.5 104.0h-1.9"/>
<path class="mn" d="M54.9 101.8h1.9M407.5 101.8h-1.9"/>
<path d="M54.9 143.7h3.5M407.5 143.7h-3.5"/>
<path class="mn" d="M54.9 174.4h1.9M407.5 174.4h-1.9"/>
<path class="mn" d="M54.9 166.6h1.9M407.5 166.6h-1.9"/>
<path class="mn" d="M54.9 161.1h1.9M407.5 161.1h-1.9"/>
<path class="mn" d="M54.9 156.9h1.9M407.5 156.9h-1.9"/>
<path class="mn" d="M54.9 153.4h1.9M407.5 153.4h-1.9"/>
<path class="mn" d="M54.9 150.5h1.9M407.5 150.5h-1.9"/>
<path class="mn" d="M54.9 147.9h1.9M407.5 147.9h-1.9"/>
<path class="mn" d="M54.9 145.7h1.9M407.5 145.7h-1.9"/>
<path d="M54.9 187.6h3.5M407.5 187.6h-3.5"/>
<path class="mn" d="M54.9 218.3h1.9M407.5 218.3h-1.9"/>
<path class="mn" d="M54.9 210.5h1.9M407.5 210.5h-1.9"/>
<path class="mn" d="M54.9 205.1h1.9M407.5 205.1h-1.9"/>
<path class="mn" d="M54.9 200.8h1.9M407.5 200.8h-1.9"/>
<path class="mn" d="M54.9 197.3h1.9M407.5 197.3h-1.9"/>
<path class="mn" d="M54.9 194.4h1.9M407.5 194.4h-1.9"/>
<path class="mn" d="M54.9 191.8h1.9M407.5 191.8h-1.9"/>
<path class="mn" d="M54.9 189.6h1.9M407.5 189.6h-1.9"/>
<path d="M54.9 231.5h3.5M407.5 231.5h-3.5"/>
<path class="mn" d="M54.9 262.2h1.9M407.5 262.2h-1.9"/>
<path class="mn" d="M54.9 254.5h1.9M407.5 254.5h-1.9"/>
<path class="mn" d="M54.9 249.0h1.9M407.5 249.0h-1.9"/>
<path class="mn" d="M54.9 244.7h1.9M407.5 244.7h-1.9"/>
<path class="mn" d="M54.9 241.2h1.9M407.5 241.2h-1.9"/>
<path class="mn" d="M54.9 238.3h1.9M407.5 238.3h-1.9"/>
<path class="mn" d="M54.9 235.7h1.9M407.5 235.7h-1.9"/>
<path class="mn" d="M54.9 233.5h1.9M407.5 233.5h-1.9"/>
<path d="M54.9 275.4h3.5M407.5 275.4h-3.5"/>
<path class="mn" d="M73.4 275.4v-1.9 M73.4 11.9v1.9"/>
<path class="mn" d="M86.7 275.4v-1.9 M86.7 11.9v1.9"/>
<path class="mn" d="M97.1 275.4v-1.9 M97.1 11.9v1.9"/>
<path class="mn" d="M105.6 275.4v-1.9 M105.6 11.9v1.9"/>
<path class="mn" d="M112.7 275.4v-1.9 M112.7 11.9v1.9"/>
<path class="mn" d="M118.9 275.4v-1.9 M118.9 11.9v1.9"/>
<path class="mn" d="M124.4 275.4v-1.9 M124.4 11.9v1.9"/>
<path d="M129.3 275.4v-3.5 M129.3 11.9v3.5"/>
<path class="mn" d="M161.5 275.4v-1.9 M161.5 11.9v1.9"/>
<path class="mn" d="M180.4 275.4v-1.9 M180.4 11.9v1.9"/>
<path class="mn" d="M193.7 275.4v-1.9 M193.7 11.9v1.9"/>
<path class="mn" d="M204.1 275.4v-1.9 M204.1 11.9v1.9"/>
<path class="mn" d="M212.6 275.4v-1.9 M212.6 11.9v1.9"/>
<path class="mn" d="M219.7 275.4v-1.9 M219.7 11.9v1.9"/>
<path class="mn" d="M225.9 275.4v-1.9 M225.9 11.9v1.9"/>
<path class="mn" d="M231.4 275.4v-1.9 M231.4 11.9v1.9"/>
<path d="M236.3 275.4v-3.5 M236.3 11.9v3.5"/>
<path class="mn" d="M268.5 275.4v-1.9 M268.5 11.9v1.9"/>
<path class="mn" d="M287.4 275.4v-1.9 M287.4 11.9v1.9"/>
<path class="mn" d="M300.7 275.4v-1.9 M300.7 11.9v1.9"/>
<path class="mn" d="M311.1 275.4v-1.9 M311.1 11.9v1.9"/>
<path class="mn" d="M319.6 275.4v-1.9 M319.6 11.9v1.9"/>
<path class="mn" d="M326.7 275.4v-1.9 M326.7 11.9v1.9"/>
<path class="mn" d="M332.9 275.4v-1.9 M332.9 11.9v1.9"/>
<path class="mn" d="M338.4 275.4v-1.9 M338.4 11.9v1.9"/>
<path d="M343.3 275.4v-3.5 M343.3 11.9v3.5"/>
<path class="mn" d="M375.5 275.4v-1.9 M375.5 11.9v1.9"/>
<path class="mn" d="M394.4 275.4v-1.9 M394.4 11.9v1.9"/>
</g>
<text x="45.6" y="17.6" text-anchor="end" class="tk">10</text><text x="45.1" y="9.9" class="sp">0</text><text x="41.4" y="61.6" text-anchor="end" class="tk">10</text><text x="40.9" y="53.9" class="sp">-1</text><text x="41.4" y="105.5" text-anchor="end" class="tk">10</text><text x="40.9" y="97.8" class="sp">-2</text><text x="41.4" y="149.4" text-anchor="end" class="tk">10</text><text x="40.9" y="141.7" class="sp">-3</text><text x="41.4" y="193.3" text-anchor="end" class="tk">10</text><text x="40.9" y="185.6" class="sp">-4</text><text x="41.4" y="237.2" text-anchor="end" class="tk">10</text><text x="40.9" y="229.5" class="sp">-5</text><text x="41.4" y="281.1" text-anchor="end" class="tk">10</text><text x="40.9" y="273.4" class="sp">-6</text>
<text x="133.0" y="295.9" text-anchor="end" class="tk">10</text><text x="132.4" y="288.3" class="sp">1</text><text x="240.0" y="295.9" text-anchor="end" class="tk">10</text><text x="239.4" y="288.3" class="sp">2</text><text x="347.0" y="295.9" text-anchor="end" class="tk">10</text><text x="346.4" y="288.3" class="sp">3</text>
<!-- legend lines -->
<path d="M177 33H200.2" stroke="#000" stroke-width="2.1"/>
<path d="M177.4 47.8H200.6" stroke="#cc0000" stroke-width="2.1"/>
<path d="M178 63.5H200.9" stroke="#66ff00" stroke-width="2.1"/>
<path d="M179.1 80.4H200.3" stroke="#3b7dff" stroke-width="1.25" stroke-dasharray="2.9 2.9"/>
<path d="M179.9 96.7H201" stroke="#9933ff" stroke-width="1.25" stroke-dasharray="2.9 2.9"/>
<path d="M271.7 33.9H292.4" stroke="#000" stroke-width="1.4" stroke-dasharray="3.9 1.5"/>
<path d="M271.7 46.1H292.4" stroke="#ff6a1a" stroke-width="1.4" stroke-dasharray="3.9 1.5"/>
<text x="210.5" y="37.3" class="lg" textLength="57" lengthAdjust="spacingAndGlyphs">Planck noise</text>
<text x="204.4" y="49" class="lg" textLength="63.2" lengthAdjust="spacingAndGlyphs">CMBpol noise</text>
<!-- legend math -->
<g font-size="13.3">
<text x="75.3" y="35.7" class="it" font-size="14.4">C</text><text x="84.6" y="39.8" class="it" font-size="9">l</text>
<text x="87.3" y="29.3" class="it sup" font-size="8.8" textLength="31.1" lengthAdjust="spacingAndGlyphs">BB,str</text>
<text x="124.3" y="35.6" class="rm">for</text><text x="144.6" y="35.6" class="it">p</text><path d="M154.9 31.1h9.2M154.9 34h9.2" class="eq"/><text x="166.7" y="35.6" class="rm">1</text>
<text x="122.8" y="53" class="it">p</text><path d="M132.5 48.5h9.2M132.5 51.4h9.2" class="eq"/><text x="144.2" y="53" class="rm" textLength="12.6" lengthAdjust="spacing">10</text>
<text x="156.9" y="47.6" class="rm sup" font-size="8.8" textLength="18.1" lengthAdjust="spacingAndGlyphs">−0.5</text>
<text x="129.9" y="67.2" class="it">p</text><path d="M138.9 62.7h9.2M138.9 65.6h9.2" class="eq"/><text x="149.9" y="67.2" class="rm" textLength="12.6" lengthAdjust="spacing">10</text>
<text x="162.7" y="62.0" class="rm sup" font-size="8.8" textLength="11.6" lengthAdjust="spacingAndGlyphs">−1</text>
<text x="135.2" y="84.4" class="it" font-size="14.4">C</text><text x="144.2" y="88.5" class="it" font-size="9">l</text>
<text x="145.7" y="78.6" class="it sup" font-size="8.8" textLength="29.3" lengthAdjust="spacingAndGlyphs">BB,inf</text>
<text x="135.2" y="101.2" class="it" font-size="14.4">C</text><text x="144.2" y="105.3" class="it" font-size="9">l</text>
<text x="145.7" y="95.0" class="it sup" font-size="8.8" textLength="28.6" lengthAdjust="spacingAndGlyphs">BB,len</text>
</g>
<!-- x label -->
<text x="215.6" y="314.3" class="it" font-size="21">l</text>
<!-- y label -->
<g transform="translate(15.4 220) rotate(-90)" font-size="16.5">
<text x="-0.6" y="0" class="it">l</text>
<text x="5.4" y="-0.5" class="rm" font-size="18.5">(</text>
<text x="11.2" y="0" class="it">l</text>
<path d="M22.3 -4.8H33.7M28 -10.5V0.9" stroke="#000" stroke-width="0.95" fill="none"/>
<text x="37.9" y="0" class="rm">1</text>
<text x="47.7" y="-0.5" class="rm" font-size="18.5">)</text>
<text transform="translate(54.2 0) scale(1.07 1)" class="it">C</text>
<text x="65.8" y="4.2" class="it" font-size="12">l</text>
<text transform="translate(70.2 -7.8) scale(1.32 1.08)" class="it" font-size="11">B</text><text transform="translate(79.9 -7.8) scale(1.32 1.08)" class="it" font-size="11">B</text>
<path d="M92.1 3.3L99.9 -11.2" stroke="#000" stroke-width="0.95" fill="none"/>
<text x="99.5" y="0" class="rm">2</text>
<text x="105.9" y="0" class="it" font-size="19">π</text>
<text x="119.8" y="1.8" class="rm" font-size="18.5">[</text>
<text transform="translate(125.2 0) scale(1.2 1)" class="it">μ</text>
<text transform="translate(136.2 0) scale(1.18 1.04)" class="it">K</text>
<text x="151" y="-7" class="rm" font-size="11.5">2</text>
<text x="157" y="1.8" class="rm" font-size="18.5">]</text>
</g>
</svg>
</body></html>
